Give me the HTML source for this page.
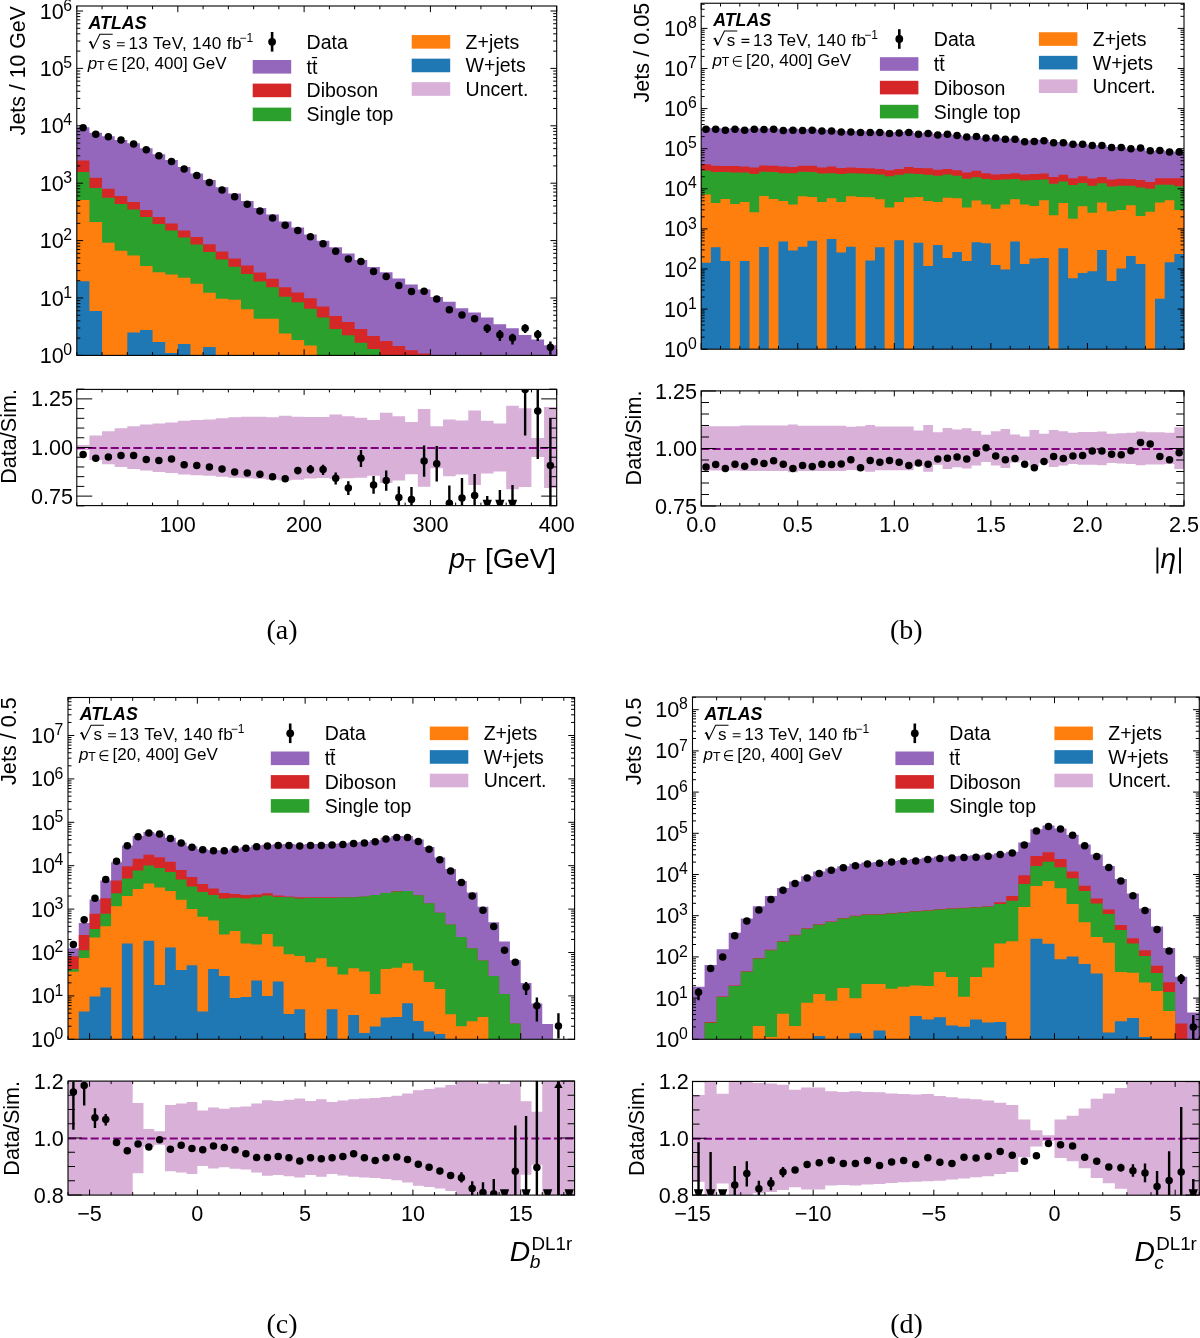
<!DOCTYPE html><html><head><meta charset="utf-8"><style>html,body{margin:0;padding:0;background:#fff;overflow:hidden}svg{display:block;will-change:transform}</style></head><body><svg width="1200" height="1338" viewBox="0 0 1200 1338" font-family='"Liberation Sans", sans-serif'><rect width="1200" height="1338" fill="#fff"/><clipPath id="cma"><rect x="76.8" y="6" width="479.9" height="349.4"/></clipPath><clipPath id="cra"><rect x="76.8" y="389.4" width="479.9" height="116.2"/></clipPath><g clip-path="url(#cma)"><path d="M76.8 355.4 L76.8 127.2 L89.43 127.2 L89.43 132.8 L102.06 132.8 L102.06 136.2 L114.69 136.2 L114.69 139.9 L127.32 139.9 L127.32 143.3 L139.94 143.3 L139.94 148.3 L152.57 148.3 L152.57 154.3 L165.2 154.3 L165.2 160 L177.83 160 L177.83 167 L190.46 167 L190.46 173.5 L203.09 173.5 L203.09 180 L215.72 180 L215.72 187.2 L228.35 187.2 L228.35 193.5 L240.98 193.5 L240.98 201 L253.61 201 L253.61 208.1 L266.23 208.1 L266.23 214.4 L278.86 214.4 L278.86 221.4 L291.49 221.4 L291.49 227.4 L304.12 227.4 L304.12 234.4 L316.75 234.4 L316.75 240.7 L329.38 240.7 L329.38 247.3 L342.01 247.3 L342.01 253.6 L354.64 253.6 L354.64 259.9 L367.27 259.9 L367.27 266.9 L379.89 266.9 L379.89 272.2 L392.52 272.2 L392.52 278.5 L405.15 278.5 L405.15 284.4 L417.78 284.4 L417.78 289.4 L430.41 289.4 L430.41 297 L443.04 297 L443.04 301.8 L455.67 301.8 L455.67 308.3 L468.3 308.3 L468.3 312.4 L480.93 312.4 L480.93 317.4 L493.56 317.4 L493.56 324.2 L506.18 324.2 L506.18 328.3 L518.81 328.3 L518.81 335.1 L531.44 335.1 L531.44 339.5 L544.07 339.5 L544.07 345.3 L556.7 345.3 L556.7 355.4 Z" fill="#9467bd"/><path d="M76.8 355.4 L76.8 160.4 L89.43 160.4 L89.43 177.8 L102.06 177.8 L102.06 188.8 L114.69 188.8 L114.69 196 L127.32 196 L127.32 201.9 L139.94 201.9 L139.94 210 L152.57 210 L152.57 216.9 L165.2 216.9 L165.2 223.4 L177.83 223.4 L177.83 230.5 L190.46 230.5 L190.46 237 L203.09 237 L203.09 244.2 L215.72 244.2 L215.72 251.6 L228.35 251.6 L228.35 258.4 L240.98 258.4 L240.98 265.4 L253.61 265.4 L253.61 272.4 L266.23 272.4 L266.23 278.7 L278.86 278.7 L278.86 287.3 L291.49 287.3 L291.49 292.5 L304.12 292.5 L304.12 298.3 L316.75 298.3 L316.75 306.5 L329.38 306.5 L329.38 316.1 L342.01 316.1 L342.01 321.9 L354.64 321.9 L354.64 329 L367.27 329 L367.27 336 L379.89 336 L379.89 341 L392.52 341 L392.52 346 L405.15 346 L405.15 350.3 L417.78 350.3 L417.78 353.5 L430.41 353.5 L430.41 355.4 L443.04 355.4 L443.04 355.4 L455.67 355.4 L455.67 355.4 L468.3 355.4 L468.3 355.4 L480.93 355.4 L480.93 355.4 L493.56 355.4 L493.56 355.4 L506.18 355.4 L506.18 355.4 L518.81 355.4 L518.81 355.4 L531.44 355.4 L531.44 355.4 L544.07 355.4 L544.07 355.4 L556.7 355.4 L556.7 355.4 Z" fill="#d62728"/><path d="M76.8 355.4 L76.8 172 L89.43 172 L89.43 188.1 L102.06 188.1 L102.06 197.8 L114.69 197.8 L114.69 204 L127.32 204 L127.32 209.6 L139.94 209.6 L139.94 217 L152.57 217 L152.57 224 L165.2 224 L165.2 230.5 L177.83 230.5 L177.83 237.6 L190.46 237.6 L190.46 244.5 L203.09 244.5 L203.09 252 L215.72 252 L215.72 259.5 L228.35 259.5 L228.35 266.8 L240.98 266.8 L240.98 274 L253.61 274 L253.61 281.5 L266.23 281.5 L266.23 287.3 L278.86 287.3 L278.86 296.8 L291.49 296.8 L291.49 302.3 L304.12 302.3 L304.12 308.8 L316.75 308.8 L316.75 317.5 L329.38 317.5 L329.38 329 L342.01 329 L342.01 335.2 L354.64 335.2 L354.64 342.7 L367.27 342.7 L367.27 349 L379.89 349 L379.89 355.4 L392.52 355.4 L392.52 355.4 L405.15 355.4 L405.15 355.4 L417.78 355.4 L417.78 355.4 L430.41 355.4 L430.41 355.4 L443.04 355.4 L443.04 355.4 L455.67 355.4 L455.67 355.4 L468.3 355.4 L468.3 355.4 L480.93 355.4 L480.93 355.4 L493.56 355.4 L493.56 355.4 L506.18 355.4 L506.18 355.4 L518.81 355.4 L518.81 355.4 L531.44 355.4 L531.44 355.4 L544.07 355.4 L544.07 355.4 L556.7 355.4 L556.7 355.4 Z" fill="#2ca02c"/><path d="M76.8 355.4 L76.8 200 L89.43 200 L89.43 222.1 L102.06 222.1 L102.06 242.7 L114.69 242.7 L114.69 250.7 L127.32 250.7 L127.32 255.4 L139.94 255.4 L139.94 266 L152.57 266 L152.57 272.2 L165.2 272.2 L165.2 274.4 L177.83 274.4 L177.83 277.8 L190.46 277.8 L190.46 283.8 L203.09 283.8 L203.09 292.7 L215.72 292.7 L215.72 298.7 L228.35 298.7 L228.35 299.8 L240.98 299.8 L240.98 309.3 L253.61 309.3 L253.61 318.7 L266.23 318.7 L266.23 318.7 L278.86 318.7 L278.86 333.6 L291.49 333.6 L291.49 339.9 L304.12 339.9 L304.12 345.4 L316.75 345.4 L316.75 355.4 L329.38 355.4 L329.38 355.4 L342.01 355.4 L342.01 355.4 L354.64 355.4 L354.64 355.4 L367.27 355.4 L367.27 355.4 L379.89 355.4 L379.89 355.4 L392.52 355.4 L392.52 355.4 L405.15 355.4 L405.15 355.4 L417.78 355.4 L417.78 355.4 L430.41 355.4 L430.41 355.4 L443.04 355.4 L443.04 355.4 L455.67 355.4 L455.67 355.4 L468.3 355.4 L468.3 355.4 L480.93 355.4 L480.93 355.4 L493.56 355.4 L493.56 355.4 L506.18 355.4 L506.18 355.4 L518.81 355.4 L518.81 355.4 L531.44 355.4 L531.44 355.4 L544.07 355.4 L544.07 355.4 L556.7 355.4 L556.7 355.4 Z" fill="#ff7f0e"/><path d="M76.8 355.4 L76.8 281.2 L89.43 281.2 L89.43 310.9 L102.06 310.9 L102.06 355.4 L114.69 355.4 L114.69 355.4 L127.32 355.4 L127.32 332.5 L139.94 332.5 L139.94 330 L152.57 330 L152.57 342.1 L165.2 342.1 L165.2 353.1 L177.83 353.1 L177.83 344 L190.46 344 L190.46 355.4 L203.09 355.4 L203.09 347 L215.72 347 L215.72 355.4 L228.35 355.4 L228.35 355.4 L240.98 355.4 L240.98 355.4 L253.61 355.4 L253.61 355.4 L266.23 355.4 L266.23 355.4 L278.86 355.4 L278.86 355.4 L291.49 355.4 L291.49 355.4 L304.12 355.4 L304.12 355.4 L316.75 355.4 L316.75 355.4 L329.38 355.4 L329.38 355.4 L342.01 355.4 L342.01 355.4 L354.64 355.4 L354.64 355.4 L367.27 355.4 L367.27 355.4 L379.89 355.4 L379.89 355.4 L392.52 355.4 L392.52 355.4 L405.15 355.4 L405.15 355.4 L417.78 355.4 L417.78 355.4 L430.41 355.4 L430.41 355.4 L443.04 355.4 L443.04 355.4 L455.67 355.4 L455.67 355.4 L468.3 355.4 L468.3 355.4 L480.93 355.4 L480.93 355.4 L493.56 355.4 L493.56 355.4 L506.18 355.4 L506.18 355.4 L518.81 355.4 L518.81 355.4 L531.44 355.4 L531.44 355.4 L544.07 355.4 L544.07 355.4 L556.7 355.4 L556.7 355.4 Z" fill="#1f77b4"/><circle cx="83.11" cy="127.7" r="3.75"/><circle cx="95.74" cy="134.3" r="3.75"/><circle cx="108.37" cy="136.7" r="3.75"/><circle cx="121" cy="139.9" r="3.75"/><circle cx="133.63" cy="144" r="3.75"/><circle cx="146.26" cy="149.8" r="3.75"/><circle cx="158.89" cy="155.8" r="3.75"/><circle cx="171.52" cy="161.4" r="3.75"/><circle cx="184.15" cy="168.9" r="3.75"/><circle cx="196.78" cy="175.4" r="3.75"/><circle cx="209.4" cy="182.5" r="3.75"/><circle cx="222.03" cy="190" r="3.75"/><circle cx="234.66" cy="196.8" r="3.75"/><circle cx="247.29" cy="204.2" r="3.75"/><circle cx="259.92" cy="210.9" r="3.75"/><circle cx="272.55" cy="218" r="3.75"/><circle cx="285.18" cy="225.3" r="3.75"/><circle cx="297.81" cy="230.5" r="3.75"/><circle cx="310.44" cy="236.8" r="3.75"/><circle cx="323.06" cy="243.7" r="3.75"/><circle cx="335.69" cy="251.2" r="3.75"/><circle cx="348.32" cy="259.1" r="3.75"/><circle cx="360.95" cy="261.4" r="3.75"/><circle cx="373.58" cy="271.6" r="3.75"/><circle cx="386.21" cy="276.4" r="3.75"/><circle cx="398.84" cy="285.5" r="3.75"/><circle cx="411.47" cy="291.6" r="3.75"/><circle cx="424.1" cy="291.2" r="3.75"/><line x1="436.73" y1="296.9" x2="436.73" y2="300.9" stroke="#000" stroke-width="2.4"/><circle cx="436.73" cy="298.9" r="3.75"/><line x1="449.35" y1="307.2" x2="449.35" y2="312.2" stroke="#000" stroke-width="2.4"/><circle cx="449.35" cy="309.7" r="3.75"/><line x1="461.98" y1="312.1" x2="461.98" y2="318.1" stroke="#000" stroke-width="2.4"/><circle cx="461.98" cy="315.1" r="3.75"/><line x1="474.61" y1="315.5" x2="474.61" y2="321.9" stroke="#000" stroke-width="2.4"/><circle cx="474.61" cy="318.7" r="3.75"/><line x1="487.24" y1="324.2" x2="487.24" y2="333" stroke="#000" stroke-width="2.4"/><circle cx="487.24" cy="328.3" r="3.75"/><line x1="499.87" y1="330" x2="499.87" y2="341" stroke="#000" stroke-width="2.4"/><circle cx="499.87" cy="334.7" r="3.75"/><line x1="512.5" y1="333.7" x2="512.5" y2="344.5" stroke="#000" stroke-width="2.4"/><circle cx="512.5" cy="338" r="3.75"/><line x1="525.13" y1="324.2" x2="525.13" y2="333" stroke="#000" stroke-width="2.4"/><circle cx="525.13" cy="328.3" r="3.75"/><line x1="537.76" y1="330" x2="537.76" y2="341" stroke="#000" stroke-width="2.4"/><circle cx="537.76" cy="334.4" r="3.75"/><line x1="550.39" y1="341.6" x2="550.39" y2="354.7" stroke="#000" stroke-width="2.4"/><circle cx="550.39" cy="347.2" r="3.75"/></g><g clip-path="url(#cra)"><path d="M76.8 445 L89.43 445 L89.43 435.6 L102.06 435.6 L102.06 431.25 L114.69 431.25 L114.69 428.3 L127.32 428.3 L127.32 426.25 L139.94 426.25 L139.94 424.6 L152.57 424.6 L152.57 423.5 L165.2 423.5 L165.2 422.5 L177.83 422.5 L177.83 420.8 L190.46 420.8 L190.46 420 L203.09 420 L203.09 419.4 L215.72 419.4 L215.72 418.3 L228.35 418.3 L228.35 417.3 L240.98 417.3 L240.98 416.7 L253.61 416.7 L253.61 416.7 L266.23 416.7 L266.23 417.3 L278.86 417.3 L278.86 415.8 L291.49 415.8 L291.49 416.7 L304.12 416.7 L304.12 417 L316.75 417 L316.75 416.9 L329.38 416.9 L329.38 414.6 L342.01 414.6 L342.01 416.25 L354.64 416.25 L354.64 417.7 L367.27 417.7 L367.27 420 L379.89 420 L379.89 412.7 L392.52 412.7 L392.52 416.25 L405.15 416.25 L405.15 422.1 L417.78 422.1 L417.78 409 L430.41 409 L430.41 426.25 L443.04 426.25 L443.04 419.4 L455.67 419.4 L455.67 420.4 L468.3 420.4 L468.3 410.4 L480.93 410.4 L480.93 420.8 L493.56 420.8 L493.56 423.5 L506.18 423.5 L506.18 405.8 L518.81 405.8 L518.81 408.3 L531.44 408.3 L531.44 438.1 L544.07 438.1 L544.07 406.9 L556.7 406.9 L556.7 488.1 L544.07 488.1 L544.07 456.9 L531.44 456.9 L531.44 487.1 L518.81 487.1 L518.81 489.2 L506.18 489.2 L506.18 471.5 L493.56 471.5 L493.56 473.5 L480.93 473.5 L480.93 485 L468.3 485 L468.3 474.6 L455.67 474.6 L455.67 476.25 L443.04 476.25 L443.04 468.3 L430.41 468.3 L430.41 486.7 L417.78 486.7 L417.78 474.2 L405.15 474.2 L405.15 480.4 L392.52 480.4 L392.52 482.9 L379.89 482.9 L379.89 475.8 L367.27 475.8 L367.27 477.7 L354.64 477.7 L354.64 478.3 L342.01 478.3 L342.01 478.75 L329.38 478.75 L329.38 478.1 L316.75 478.1 L316.75 478.5 L304.12 478.5 L304.12 479.8 L291.49 479.8 L291.49 480.4 L278.86 480.4 L278.86 479.8 L266.23 479.8 L266.23 478.75 L253.61 478.75 L253.61 478.3 L240.98 478.3 L240.98 477.7 L228.35 477.7 L228.35 476.7 L215.72 476.7 L215.72 475.8 L203.09 475.8 L203.09 475.2 L190.46 475.2 L190.46 474.6 L177.83 474.6 L177.83 473 L165.2 473 L165.2 472 L152.57 472 L152.57 470.4 L139.94 470.4 L139.94 469 L127.32 469 L127.32 466.9 L114.69 466.9 L114.69 464.2 L102.06 464.2 L102.06 460 L89.43 460 L89.43 450 L76.8 450 Z" fill="#d8b0d8"/><line x1="76.8" y1="447.9" x2="556.7" y2="447.9" stroke="#800080" stroke-width="2" stroke-dasharray="8.1 3.2"/><circle cx="83.11" cy="454.4" r="3.75"/><circle cx="95.74" cy="458.3" r="3.75"/><circle cx="108.37" cy="456.9" r="3.75"/><circle cx="121" cy="455.4" r="3.75"/><circle cx="133.63" cy="455.4" r="3.75"/><circle cx="146.26" cy="459.4" r="3.75"/><circle cx="158.89" cy="460.6" r="3.75"/><circle cx="171.52" cy="459" r="3.75"/><circle cx="184.15" cy="464.8" r="3.75"/><circle cx="196.78" cy="465.6" r="3.75"/><circle cx="209.4" cy="466.9" r="3.75"/><circle cx="222.03" cy="469" r="3.75"/><circle cx="234.66" cy="471.9" r="3.75"/><circle cx="247.29" cy="472.9" r="3.75"/><line x1="259.92" y1="472" x2="259.92" y2="476.5" stroke="#000" stroke-width="2.4"/><circle cx="259.92" cy="474.2" r="3.75"/><line x1="272.55" y1="474" x2="272.55" y2="479.5" stroke="#000" stroke-width="2.4"/><circle cx="272.55" cy="476.7" r="3.75"/><line x1="285.18" y1="476" x2="285.18" y2="481.5" stroke="#000" stroke-width="2.4"/><circle cx="285.18" cy="478.75" r="3.75"/><line x1="297.81" y1="467.3" x2="297.81" y2="474.2" stroke="#000" stroke-width="2.4"/><circle cx="297.81" cy="470.4" r="3.75"/><line x1="310.44" y1="465" x2="310.44" y2="473.5" stroke="#000" stroke-width="2.4"/><circle cx="310.44" cy="469.4" r="3.75"/><line x1="323.06" y1="464.8" x2="323.06" y2="475" stroke="#000" stroke-width="2.4"/><circle cx="323.06" cy="469.4" r="3.75"/><line x1="335.69" y1="472.5" x2="335.69" y2="484.6" stroke="#000" stroke-width="2.4"/><circle cx="335.69" cy="478.3" r="3.75"/><line x1="348.32" y1="481.25" x2="348.32" y2="495" stroke="#000" stroke-width="2.4"/><circle cx="348.32" cy="488.1" r="3.75"/><line x1="360.95" y1="450" x2="360.95" y2="466.9" stroke="#000" stroke-width="2.4"/><circle cx="360.95" cy="458.3" r="3.75"/><line x1="373.58" y1="476" x2="373.58" y2="493.75" stroke="#000" stroke-width="2.4"/><circle cx="373.58" cy="485" r="3.75"/><line x1="386.21" y1="470.4" x2="386.21" y2="490.8" stroke="#000" stroke-width="2.4"/><circle cx="386.21" cy="480.4" r="3.75"/><line x1="398.84" y1="486.5" x2="398.84" y2="505.6" stroke="#000" stroke-width="2.4"/><circle cx="398.84" cy="497.5" r="3.75"/><line x1="411.47" y1="487" x2="411.47" y2="505.6" stroke="#000" stroke-width="2.4"/><circle cx="411.47" cy="499.6" r="3.75"/><line x1="424.1" y1="445.4" x2="424.1" y2="476.7" stroke="#000" stroke-width="2.4"/><circle cx="424.1" cy="461" r="3.75"/><line x1="436.73" y1="446" x2="436.73" y2="481.5" stroke="#000" stroke-width="2.4"/><circle cx="436.73" cy="463.75" r="3.75"/><line x1="449.35" y1="485.4" x2="449.35" y2="505.6" stroke="#000" stroke-width="2.4"/><circle cx="449.35" cy="503.3" r="3.75"/><line x1="461.98" y1="478" x2="461.98" y2="505.6" stroke="#000" stroke-width="2.4"/><circle cx="461.98" cy="498.1" r="3.75"/><line x1="474.61" y1="474" x2="474.61" y2="505.6" stroke="#000" stroke-width="2.4"/><circle cx="474.61" cy="495.4" r="3.75"/><line x1="487.24" y1="496" x2="487.24" y2="505.6" stroke="#000" stroke-width="2.4"/><path d="M482.64 499.7 L491.84 499.7 L489.84 505.6 L484.64 505.6 Z"/><line x1="499.87" y1="490" x2="499.87" y2="505.6" stroke="#000" stroke-width="2.4"/><path d="M495.27 499.7 L504.47 499.7 L502.47 505.6 L497.27 505.6 Z"/><line x1="512.5" y1="485" x2="512.5" y2="505.6" stroke="#000" stroke-width="2.4"/><path d="M507.9 499.7 L517.1 499.7 L515.1 505.6 L509.9 505.6 Z"/><line x1="525.13" y1="389.4" x2="525.13" y2="435.6" stroke="#000" stroke-width="2.4"/><circle cx="525.13" cy="389.6" r="3.75"/><line x1="537.76" y1="389.4" x2="537.76" y2="459" stroke="#000" stroke-width="2.4"/><circle cx="537.76" cy="411" r="3.75"/><line x1="550.39" y1="418.3" x2="550.39" y2="505.6" stroke="#000" stroke-width="2.4"/><circle cx="550.39" cy="465.6" r="3.75"/></g><rect x="76.8" y="6" width="479.9" height="349.4" fill="none" stroke="#000" stroke-width="1.1"/><rect x="76.8" y="389.4" width="479.9" height="116.2" fill="none" stroke="#000" stroke-width="1.1"/><path d="M76.8 355.4H83.1 M556.7 355.4H550.4 M76.8 338.12H80.3 M556.7 338.12H553.2 M76.8 328.01H80.3 M556.7 328.01H553.2 M76.8 320.84H80.3 M556.7 320.84H553.2 M76.8 315.28H80.3 M556.7 315.28H553.2 M76.8 310.73H80.3 M556.7 310.73H553.2 M76.8 306.89H80.3 M556.7 306.89H553.2 M76.8 303.56H80.3 M556.7 303.56H553.2 M76.8 300.63H80.3 M556.7 300.63H553.2 M76.8 298H83.1 M556.7 298H550.4 M76.8 280.72H80.3 M556.7 280.72H553.2 M76.8 270.61H80.3 M556.7 270.61H553.2 M76.8 263.44H80.3 M556.7 263.44H553.2 M76.8 257.88H80.3 M556.7 257.88H553.2 M76.8 253.33H80.3 M556.7 253.33H553.2 M76.8 249.49H80.3 M556.7 249.49H553.2 M76.8 246.16H80.3 M556.7 246.16H553.2 M76.8 243.23H80.3 M556.7 243.23H553.2 M76.8 240.6H83.1 M556.7 240.6H550.4 M76.8 223.32H80.3 M556.7 223.32H553.2 M76.8 213.21H80.3 M556.7 213.21H553.2 M76.8 206.04H80.3 M556.7 206.04H553.2 M76.8 200.48H80.3 M556.7 200.48H553.2 M76.8 195.93H80.3 M556.7 195.93H553.2 M76.8 192.09H80.3 M556.7 192.09H553.2 M76.8 188.76H80.3 M556.7 188.76H553.2 M76.8 185.83H80.3 M556.7 185.83H553.2 M76.8 183.2H83.1 M556.7 183.2H550.4 M76.8 165.92H80.3 M556.7 165.92H553.2 M76.8 155.81H80.3 M556.7 155.81H553.2 M76.8 148.64H80.3 M556.7 148.64H553.2 M76.8 143.08H80.3 M556.7 143.08H553.2 M76.8 138.53H80.3 M556.7 138.53H553.2 M76.8 134.69H80.3 M556.7 134.69H553.2 M76.8 131.36H80.3 M556.7 131.36H553.2 M76.8 128.43H80.3 M556.7 128.43H553.2 M76.8 125.8H83.1 M556.7 125.8H550.4 M76.8 108.52H80.3 M556.7 108.52H553.2 M76.8 98.41H80.3 M556.7 98.41H553.2 M76.8 91.24H80.3 M556.7 91.24H553.2 M76.8 85.68H80.3 M556.7 85.68H553.2 M76.8 81.13H80.3 M556.7 81.13H553.2 M76.8 77.29H80.3 M556.7 77.29H553.2 M76.8 73.96H80.3 M556.7 73.96H553.2 M76.8 71.03H80.3 M556.7 71.03H553.2 M76.8 68.4H83.1 M556.7 68.4H550.4 M76.8 51.12H80.3 M556.7 51.12H553.2 M76.8 41.01H80.3 M556.7 41.01H553.2 M76.8 33.84H80.3 M556.7 33.84H553.2 M76.8 28.28H80.3 M556.7 28.28H553.2 M76.8 23.73H80.3 M556.7 23.73H553.2 M76.8 19.89H80.3 M556.7 19.89H553.2 M76.8 16.56H80.3 M556.7 16.56H553.2 M76.8 13.63H80.3 M556.7 13.63H553.2 M76.8 11H83.1 M556.7 11H550.4" stroke="#000" stroke-width="1"/><clipPath id="cmb"><rect x="701.2" y="3.25" width="482.8" height="345.95"/></clipPath><clipPath id="crb"><rect x="701.2" y="390.9" width="482.8" height="115"/></clipPath><g clip-path="url(#cmb)"><path d="M701.2 349.2 L701.2 127.75 L710.86 127.75 L710.86 127.94 L720.51 127.94 L720.51 128.61 L730.17 128.61 L730.17 127.97 L739.82 127.97 L739.82 128.8 L749.48 128.8 L749.48 128.16 L759.14 128.16 L759.14 128.43 L768.79 128.43 L768.79 128.25 L778.45 128.25 L778.45 129.35 L788.1 129.35 L788.1 128.61 L797.76 128.61 L797.76 129.26 L807.42 129.26 L807.42 128.79 L817.07 128.79 L817.07 129.87 L826.73 129.87 L826.73 129.84 L836.38 129.84 L836.38 130.79 L846.04 130.79 L846.04 131.13 L855.7 131.13 L855.7 130.87 L865.35 130.87 L865.35 131.47 L875.01 131.47 L875.01 131.32 L884.66 131.32 L884.66 132.47 L894.32 132.47 L894.32 131.92 L903.98 131.92 L903.98 131.06 L913.63 131.06 L913.63 133.17 L923.29 133.17 L923.29 132.17 L932.94 132.17 L932.94 134.08 L942.6 134.08 L942.6 133.55 L952.26 133.55 L952.26 134.94 L961.91 134.94 L961.91 136.28 L971.57 136.28 L971.57 136.13 L981.22 136.13 L981.22 138.05 L990.88 138.05 L990.88 137.42 L1000.54 137.42 L1000.54 138.43 L1010.19 138.43 L1010.19 138.52 L1019.85 138.52 L1019.85 140.57 L1029.5 140.57 L1029.5 139.87 L1039.16 139.87 L1039.16 139.8 L1048.82 139.8 L1048.82 142.08 L1058.47 142.08 L1058.47 141.92 L1068.13 141.92 L1068.13 143.62 L1077.78 143.62 L1077.78 143.67 L1087.44 143.67 L1087.44 145.31 L1097.1 145.31 L1097.1 145.31 L1106.75 145.31 L1106.75 146.96 L1116.41 146.96 L1116.41 146.92 L1126.06 146.92 L1126.06 148.52 L1135.72 148.52 L1135.72 148.35 L1145.38 148.35 L1145.38 151.04 L1155.03 151.04 L1155.03 149.88 L1164.69 149.88 L1164.69 151.13 L1174.34 151.13 L1174.34 151.67 L1184 151.67 L1184 349.2 Z" fill="#9467bd"/><path d="M701.2 349.2 L701.2 164.2 L710.86 164.2 L710.86 165.7 L720.51 165.7 L720.51 166 L730.17 166 L730.17 166 L739.82 166 L739.82 166.6 L749.48 166.6 L749.48 167.5 L759.14 167.5 L759.14 165.5 L768.79 165.5 L768.79 165.7 L778.45 165.7 L778.45 166.4 L788.1 166.4 L788.1 167 L797.76 167 L797.76 165.7 L807.42 165.7 L807.42 165.7 L817.07 165.7 L817.07 167.5 L826.73 167.5 L826.73 166.6 L836.38 166.6 L836.38 167.9 L846.04 167.9 L846.04 167.5 L855.7 167.5 L855.7 167.9 L865.35 167.9 L865.35 168.3 L875.01 168.3 L875.01 168.9 L884.66 168.9 L884.66 170.2 L894.32 170.2 L894.32 168.9 L903.98 168.9 L903.98 167 L913.63 167 L913.63 167.9 L923.29 167.9 L923.29 168.3 L932.94 168.3 L932.94 169.8 L942.6 169.8 L942.6 168.9 L952.26 168.9 L952.26 170.2 L961.91 170.2 L961.91 172.6 L971.57 172.6 L971.57 170.7 L981.22 170.7 L981.22 173.2 L990.88 173.2 L990.88 174.5 L1000.54 174.5 L1000.54 173.9 L1010.19 173.9 L1010.19 173.2 L1019.85 173.2 L1019.85 174.5 L1029.5 174.5 L1029.5 173.9 L1039.16 173.9 L1039.16 173.5 L1048.82 173.5 L1048.82 176.9 L1058.47 176.9 L1058.47 174.8 L1068.13 174.8 L1068.13 178.2 L1077.78 178.2 L1077.78 176.3 L1087.44 176.3 L1087.44 178.6 L1097.1 178.6 L1097.1 176.9 L1106.75 176.9 L1106.75 179.5 L1116.41 179.5 L1116.41 178.8 L1126.06 178.8 L1126.06 179.1 L1135.72 179.1 L1135.72 180 L1145.38 180 L1145.38 181.9 L1155.03 181.9 L1155.03 178.2 L1164.69 178.2 L1164.69 178.2 L1174.34 178.2 L1174.34 178.2 L1184 178.2 L1184 349.2 Z" fill="#d62728"/><path d="M701.2 349.2 L701.2 170.4 L710.86 170.4 L710.86 172 L720.51 172 L720.51 172 L730.17 172 L730.17 172.6 L739.82 172.6 L739.82 172.6 L749.48 172.6 L749.48 173.9 L759.14 173.9 L759.14 171.7 L768.79 171.7 L768.79 172 L778.45 172 L778.45 173.2 L788.1 173.2 L788.1 173.2 L797.76 173.2 L797.76 171.7 L807.42 171.7 L807.42 172 L817.07 172 L817.07 173.5 L826.73 173.5 L826.73 173.2 L836.38 173.2 L836.38 173.9 L846.04 173.9 L846.04 173.2 L855.7 173.2 L855.7 173.5 L865.35 173.5 L865.35 173.9 L875.01 173.9 L875.01 174.5 L884.66 174.5 L884.66 176.3 L894.32 176.3 L894.32 174.8 L903.98 174.8 L903.98 173.5 L913.63 173.5 L913.63 174.1 L923.29 174.1 L923.29 174.8 L932.94 174.8 L932.94 175.8 L942.6 175.8 L942.6 174.5 L952.26 174.5 L952.26 175.8 L961.91 175.8 L961.91 178.8 L971.57 178.8 L971.57 177.3 L981.22 177.3 L981.22 179.1 L990.88 179.1 L990.88 180 L1000.54 180 L1000.54 179.5 L1010.19 179.5 L1010.19 179.1 L1019.85 179.1 L1019.85 180.6 L1029.5 180.6 L1029.5 180 L1039.16 180 L1039.16 179.5 L1048.82 179.5 L1048.82 183.8 L1058.47 183.8 L1058.47 181.4 L1068.13 181.4 L1068.13 185.1 L1077.78 185.1 L1077.78 182.9 L1087.44 182.9 L1087.44 185.7 L1097.1 185.7 L1097.1 183.2 L1106.75 183.2 L1106.75 186.6 L1116.41 186.6 L1116.41 185.7 L1126.06 185.7 L1126.06 185.7 L1135.72 185.7 L1135.72 187.5 L1145.38 187.5 L1145.38 188.8 L1155.03 188.8 L1155.03 184.7 L1164.69 184.7 L1164.69 184.7 L1174.34 184.7 L1174.34 186.2 L1184 186.2 L1184 349.2 Z" fill="#2ca02c"/><path d="M701.2 349.2 L701.2 194.5 L710.86 194.5 L710.86 202.9 L720.51 202.9 L720.51 199.1 L730.17 199.1 L730.17 204 L739.82 204 L739.82 201.9 L749.48 201.9 L749.48 212.2 L759.14 212.2 L759.14 196 L768.79 196 L768.79 199.1 L778.45 199.1 L778.45 201 L788.1 201 L788.1 204.4 L797.76 204.4 L797.76 196.3 L807.42 196.3 L807.42 196.9 L817.07 196.9 L817.07 201.9 L826.73 201.9 L826.73 198.2 L836.38 198.2 L836.38 201.9 L846.04 201.9 L846.04 196.3 L855.7 196.3 L855.7 196.9 L865.35 196.9 L865.35 197.3 L875.01 197.3 L875.01 199.3 L884.66 199.3 L884.66 207.5 L894.32 207.5 L894.32 202.1 L903.98 202.1 L903.98 197.4 L913.63 197.4 L913.63 196.9 L923.29 196.9 L923.29 201 L932.94 201 L932.94 202.1 L942.6 202.1 L942.6 197.8 L952.26 197.8 L952.26 198.2 L961.91 198.2 L961.91 207.5 L971.57 207.5 L971.57 200.6 L981.22 200.6 L981.22 204.4 L990.88 204.4 L990.88 208.7 L1000.54 208.7 L1000.54 204.4 L1010.19 204.4 L1010.19 199.3 L1019.85 199.3 L1019.85 204.4 L1029.5 204.4 L1029.5 205.9 L1039.16 205.9 L1039.16 200.2 L1048.82 200.2 L1048.82 215.2 L1058.47 215.2 L1058.47 203 L1068.13 203 L1068.13 218.7 L1077.78 218.7 L1077.78 206.2 L1087.44 206.2 L1087.44 212.8 L1097.1 212.8 L1097.1 202.5 L1106.75 202.5 L1106.75 211.3 L1116.41 211.3 L1116.41 210 L1126.06 210 L1126.06 205.3 L1135.72 205.3 L1135.72 216.1 L1145.38 216.1 L1145.38 211.8 L1155.03 211.8 L1155.03 202.5 L1164.69 202.5 L1164.69 200.2 L1174.34 200.2 L1174.34 210 L1184 210 L1184 349.2 Z" fill="#ff7f0e"/><path d="M701.2 349.2 L701.2 262.8 L710.86 262.8 L710.86 247.3 L720.51 247.3 L720.51 261 L730.17 261 L730.17 349.2 L739.82 349.2 L739.82 261 L749.48 261 L749.48 349.2 L759.14 349.2 L759.14 247 L768.79 247 L768.79 349.2 L778.45 349.2 L778.45 241.4 L788.1 241.4 L788.1 250.5 L797.76 250.5 L797.76 246.8 L807.42 246.8 L807.42 240.8 L817.07 240.8 L817.07 349.2 L826.73 349.2 L826.73 238.9 L836.38 238.9 L836.38 252.4 L846.04 252.4 L846.04 246.8 L855.7 246.8 L855.7 349.2 L865.35 349.2 L865.35 260.4 L875.01 260.4 L875.01 247.3 L884.66 247.3 L884.66 349.2 L894.32 349.2 L894.32 240.2 L903.98 240.2 L903.98 349.2 L913.63 349.2 L913.63 242.7 L923.29 242.7 L923.29 266 L932.94 266 L932.94 244.9 L942.6 244.9 L942.6 258 L952.26 258 L952.26 252 L961.91 252 L961.91 261 L971.57 261 L971.57 242.3 L981.22 242.3 L981.22 243.2 L990.88 243.2 L990.88 265.1 L1000.54 265.1 L1000.54 269.4 L1010.19 269.4 L1010.19 241.4 L1019.85 241.4 L1019.85 264.1 L1029.5 264.1 L1029.5 258.5 L1039.16 258.5 L1039.16 258 L1048.82 258 L1048.82 349.2 L1058.47 349.2 L1058.47 248.3 L1068.13 248.3 L1068.13 278.2 L1077.78 278.2 L1077.78 272.9 L1087.44 272.9 L1087.44 271.2 L1097.1 271.2 L1097.1 250.1 L1106.75 250.1 L1106.75 281 L1116.41 281 L1116.41 268.4 L1126.06 268.4 L1126.06 256.1 L1135.72 256.1 L1135.72 264.1 L1145.38 264.1 L1145.38 349.2 L1155.03 349.2 L1155.03 298.7 L1164.69 298.7 L1164.69 262.3 L1174.34 262.3 L1174.34 253.9 L1184 253.9 L1184 349.2 Z" fill="#1f77b4"/><circle cx="706.03" cy="129.2" r="3.75"/><circle cx="715.68" cy="129.2" r="3.75"/><circle cx="725.34" cy="130.2" r="3.75"/><circle cx="735" cy="129.2" r="3.75"/><circle cx="744.65" cy="130.2" r="3.75"/><circle cx="754.31" cy="129.2" r="3.75"/><circle cx="763.96" cy="129.6" r="3.75"/><circle cx="773.62" cy="129.2" r="3.75"/><circle cx="783.28" cy="130.6" r="3.75"/><circle cx="792.93" cy="130.2" r="3.75"/><circle cx="802.59" cy="130.6" r="3.75"/><circle cx="812.24" cy="130.2" r="3.75"/><circle cx="821.9" cy="131.1" r="3.75"/><circle cx="831.56" cy="131.1" r="3.75"/><circle cx="841.21" cy="132" r="3.75"/><circle cx="850.87" cy="132" r="3.75"/><circle cx="860.52" cy="132.4" r="3.75"/><circle cx="870.18" cy="132.4" r="3.75"/><circle cx="879.84" cy="132.4" r="3.75"/><circle cx="889.49" cy="133.4" r="3.75"/><circle cx="899.15" cy="133" r="3.75"/><circle cx="908.8" cy="132.4" r="3.75"/><circle cx="918.46" cy="134.3" r="3.75"/><circle cx="928.12" cy="133.4" r="3.75"/><circle cx="937.77" cy="134.9" r="3.75"/><circle cx="947.43" cy="134.3" r="3.75"/><circle cx="957.08" cy="135.6" r="3.75"/><circle cx="966.74" cy="137.1" r="3.75"/><circle cx="976.4" cy="136.5" r="3.75"/><circle cx="986.05" cy="138" r="3.75"/><circle cx="995.71" cy="138" r="3.75"/><circle cx="1005.36" cy="139.3" r="3.75"/><circle cx="1015.02" cy="139.3" r="3.75"/><circle cx="1024.68" cy="141.8" r="3.75"/><circle cx="1034.33" cy="141.4" r="3.75"/><circle cx="1043.99" cy="140.8" r="3.75"/><circle cx="1053.64" cy="142.7" r="3.75"/><circle cx="1063.3" cy="142.7" r="3.75"/><circle cx="1072.96" cy="144.2" r="3.75"/><circle cx="1082.61" cy="144.2" r="3.75"/><circle cx="1092.27" cy="145.5" r="3.75"/><circle cx="1101.92" cy="145.5" r="3.75"/><circle cx="1111.58" cy="147.4" r="3.75"/><circle cx="1121.24" cy="147.4" r="3.75"/><circle cx="1130.89" cy="148.7" r="3.75"/><circle cx="1140.55" cy="147.9" r="3.75"/><circle cx="1150.2" cy="150.7" r="3.75"/><circle cx="1159.86" cy="150.5" r="3.75"/><circle cx="1169.52" cy="152" r="3.75"/><circle cx="1179.17" cy="152" r="3.75"/></g><g clip-path="url(#crb)"><path d="M701.2 426.2 L710.86 426.2 L710.86 426.2 L720.51 426.2 L720.51 426.2 L730.17 426.2 L730.17 426.2 L739.82 426.2 L739.82 425.5 L749.48 425.5 L749.48 425.5 L759.14 425.5 L759.14 425.5 L768.79 425.5 L768.79 425.5 L778.45 425.5 L778.45 425.5 L788.1 425.5 L788.1 424.4 L797.76 424.4 L797.76 425.7 L807.42 425.7 L807.42 425.7 L817.07 425.7 L817.07 425.7 L826.73 425.7 L826.73 425.7 L836.38 425.7 L836.38 425.7 L846.04 425.7 L846.04 426.8 L855.7 426.8 L855.7 426.2 L865.35 426.2 L865.35 425.1 L875.01 425.1 L875.01 426.6 L884.66 426.6 L884.66 426.6 L894.32 426.6 L894.32 426.6 L903.98 426.6 L903.98 426.6 L913.63 426.6 L913.63 430.5 L923.29 430.5 L923.29 425.1 L932.94 425.1 L932.94 432.2 L942.6 432.2 L942.6 427.9 L952.26 427.9 L952.26 429.4 L961.91 429.4 L961.91 428.3 L971.57 428.3 L971.57 430.9 L981.22 430.9 L981.22 434.8 L990.88 434.8 L990.88 431.2 L1000.54 431.2 L1000.54 429 L1010.19 429 L1010.19 434.4 L1019.85 434.4 L1019.85 436.4 L1029.5 436.4 L1029.5 430.1 L1039.16 430.1 L1039.16 433.75 L1048.82 433.75 L1048.82 430.1 L1058.47 430.1 L1058.47 431.2 L1068.13 431.2 L1068.13 432.7 L1077.78 432.7 L1077.78 432 L1087.44 432 L1087.44 432 L1097.1 432 L1097.1 431.6 L1106.75 431.6 L1106.75 433.75 L1116.41 433.75 L1116.41 433.3 L1126.06 433.3 L1126.06 432.7 L1135.72 432.7 L1135.72 431.6 L1145.38 431.6 L1145.38 432.2 L1155.03 432.2 L1155.03 432.2 L1164.69 432.2 L1164.69 432.7 L1174.34 432.7 L1174.34 427.25 L1184 427.25 L1184 469.1 L1174.34 469.1 L1174.34 464.1 L1164.69 464.1 L1164.69 464.5 L1155.03 464.5 L1155.03 464.5 L1145.38 464.5 L1145.38 465.2 L1135.72 465.2 L1135.72 464.1 L1126.06 464.1 L1126.06 463.4 L1116.41 463.4 L1116.41 463 L1106.75 463 L1106.75 465.2 L1097.1 465.2 L1097.1 464.7 L1087.44 464.7 L1087.44 464.7 L1077.78 464.7 L1077.78 464.1 L1068.13 464.1 L1068.13 465.6 L1058.47 465.6 L1058.47 466.9 L1048.82 466.9 L1048.82 463 L1039.16 463 L1039.16 466.7 L1029.5 466.7 L1029.5 460.4 L1019.85 460.4 L1019.85 462.4 L1010.19 462.4 L1010.19 468 L1000.54 468 L1000.54 465.6 L990.88 465.6 L990.88 461.9 L981.22 461.9 L981.22 465.6 L971.57 465.6 L971.57 468.4 L961.91 468.4 L961.91 467.3 L952.26 467.3 L952.26 468.9 L942.6 468.9 L942.6 464.7 L932.94 464.7 L932.94 471.7 L923.29 471.7 L923.29 466.3 L913.63 466.3 L913.63 470.2 L903.98 470.2 L903.98 470.2 L894.32 470.2 L894.32 470.2 L884.66 470.2 L884.66 470.2 L875.01 470.2 L875.01 471.7 L865.35 471.7 L865.35 470.6 L855.7 470.6 L855.7 469.9 L846.04 469.9 L846.04 471 L836.38 471 L836.38 471 L826.73 471 L826.73 471 L817.07 471 L817.07 471 L807.42 471 L807.42 471 L797.76 471 L797.76 472.3 L788.1 472.3 L788.1 471 L778.45 471 L778.45 471 L768.79 471 L768.79 471 L759.14 471 L759.14 471 L749.48 471 L749.48 471 L739.82 471 L739.82 470.6 L730.17 470.6 L730.17 470.6 L720.51 470.6 L720.51 470.6 L710.86 470.6 L710.86 470.6 L701.2 470.6 Z" fill="#d8b0d8"/><line x1="701.2" y1="448.9" x2="1184" y2="448.9" stroke="#800080" stroke-width="2" stroke-dasharray="8.1 3.2"/><circle cx="706.03" cy="466.9" r="3.75"/><circle cx="715.68" cy="464.6" r="3.75"/><circle cx="725.34" cy="468.51" r="3.75"/><circle cx="735" cy="464.14" r="3.75"/><circle cx="744.65" cy="466.21" r="3.75"/><circle cx="754.31" cy="461.84" r="3.75"/><circle cx="763.96" cy="463.45" r="3.75"/><circle cx="773.62" cy="460.69" r="3.75"/><circle cx="783.28" cy="464.37" r="3.75"/><circle cx="792.93" cy="468.51" r="3.75"/><circle cx="802.59" cy="465.52" r="3.75"/><circle cx="812.24" cy="466.44" r="3.75"/><circle cx="821.9" cy="464.14" r="3.75"/><circle cx="831.56" cy="464.6" r="3.75"/><circle cx="841.21" cy="463.91" r="3.75"/><circle cx="850.87" cy="459.77" r="3.75"/><circle cx="860.52" cy="467.82" r="3.75"/><circle cx="870.18" cy="460.46" r="3.75"/><circle cx="879.84" cy="462.3" r="3.75"/><circle cx="889.49" cy="460.46" r="3.75"/><circle cx="899.15" cy="462.3" r="3.75"/><circle cx="908.8" cy="465.52" r="3.75"/><circle cx="918.46" cy="462.99" r="3.75"/><circle cx="928.12" cy="464.14" r="3.75"/><circle cx="937.77" cy="459.08" r="3.75"/><circle cx="947.43" cy="458.16" r="3.75"/><circle cx="957.08" cy="457.01" r="3.75"/><circle cx="966.74" cy="459.08" r="3.75"/><circle cx="976.4" cy="453.33" r="3.75"/><circle cx="986.05" cy="447.81" r="3.75"/><circle cx="995.71" cy="456.09" r="3.75"/><circle cx="1005.36" cy="459.77" r="3.75"/><circle cx="1015.02" cy="458.62" r="3.75"/><circle cx="1024.68" cy="464.14" r="3.75"/><circle cx="1034.33" cy="467.82" r="3.75"/><circle cx="1043.99" cy="461.38" r="3.75"/><circle cx="1053.64" cy="456.55" r="3.75"/><circle cx="1063.3" cy="458.62" r="3.75"/><circle cx="1072.96" cy="456.09" r="3.75"/><circle cx="1082.61" cy="455.4" r="3.75"/><circle cx="1092.27" cy="451.03" r="3.75"/><circle cx="1101.92" cy="451.03" r="3.75"/><circle cx="1111.58" cy="454.25" r="3.75"/><circle cx="1121.24" cy="454.71" r="3.75"/><circle cx="1130.89" cy="450.8" r="3.75"/><circle cx="1140.55" cy="442.52" r="3.75"/><circle cx="1150.2" cy="443.9" r="3.75"/><circle cx="1159.86" cy="456.55" r="3.75"/><circle cx="1169.52" cy="459.77" r="3.75"/><circle cx="1179.17" cy="452.87" r="3.75"/></g><rect x="701.2" y="3.25" width="482.8" height="345.95" fill="none" stroke="#000" stroke-width="1.1"/><rect x="701.2" y="390.9" width="482.8" height="115" fill="none" stroke="#000" stroke-width="1.1"/><path d="M701.2 349.2H707.5 M1184 349.2H1177.7 M701.2 337.13H704.7 M1184 337.13H1180.5 M701.2 330.07H704.7 M1184 330.07H1180.5 M701.2 325.06H704.7 M1184 325.06H1180.5 M701.2 321.17H704.7 M1184 321.17H1180.5 M701.2 318H704.7 M1184 318H1180.5 M701.2 315.31H704.7 M1184 315.31H1180.5 M701.2 312.99H704.7 M1184 312.99H1180.5 M701.2 310.93H704.7 M1184 310.93H1180.5 M701.2 309.1H707.5 M1184 309.1H1177.7 M701.2 297.03H704.7 M1184 297.03H1180.5 M701.2 289.97H704.7 M1184 289.97H1180.5 M701.2 284.96H704.7 M1184 284.96H1180.5 M701.2 281.07H704.7 M1184 281.07H1180.5 M701.2 277.9H704.7 M1184 277.9H1180.5 M701.2 275.21H704.7 M1184 275.21H1180.5 M701.2 272.89H704.7 M1184 272.89H1180.5 M701.2 270.83H704.7 M1184 270.83H1180.5 M701.2 269H707.5 M1184 269H1177.7 M701.2 256.93H704.7 M1184 256.93H1180.5 M701.2 249.87H704.7 M1184 249.87H1180.5 M701.2 244.86H704.7 M1184 244.86H1180.5 M701.2 240.97H704.7 M1184 240.97H1180.5 M701.2 237.8H704.7 M1184 237.8H1180.5 M701.2 235.11H704.7 M1184 235.11H1180.5 M701.2 232.79H704.7 M1184 232.79H1180.5 M701.2 230.73H704.7 M1184 230.73H1180.5 M701.2 228.9H707.5 M1184 228.9H1177.7 M701.2 216.83H704.7 M1184 216.83H1180.5 M701.2 209.77H704.7 M1184 209.77H1180.5 M701.2 204.76H704.7 M1184 204.76H1180.5 M701.2 200.87H704.7 M1184 200.87H1180.5 M701.2 197.7H704.7 M1184 197.7H1180.5 M701.2 195.01H704.7 M1184 195.01H1180.5 M701.2 192.69H704.7 M1184 192.69H1180.5 M701.2 190.63H704.7 M1184 190.63H1180.5 M701.2 188.8H707.5 M1184 188.8H1177.7 M701.2 176.73H704.7 M1184 176.73H1180.5 M701.2 169.67H704.7 M1184 169.67H1180.5 M701.2 164.66H704.7 M1184 164.66H1180.5 M701.2 160.77H704.7 M1184 160.77H1180.5 M701.2 157.6H704.7 M1184 157.6H1180.5 M701.2 154.91H704.7 M1184 154.91H1180.5 M701.2 152.59H704.7 M1184 152.59H1180.5 M701.2 150.53H704.7 M1184 150.53H1180.5 M701.2 148.7H707.5 M1184 148.7H1177.7 M701.2 136.63H704.7 M1184 136.63H1180.5 M701.2 129.57H704.7 M1184 129.57H1180.5 M701.2 124.56H704.7 M1184 124.56H1180.5 M701.2 120.67H704.7 M1184 120.67H1180.5 M701.2 117.5H704.7 M1184 117.5H1180.5 M701.2 114.81H704.7 M1184 114.81H1180.5 M701.2 112.49H704.7 M1184 112.49H1180.5 M701.2 110.43H704.7 M1184 110.43H1180.5 M701.2 108.6H707.5 M1184 108.6H1177.7 M701.2 96.53H704.7 M1184 96.53H1180.5 M701.2 89.47H704.7 M1184 89.47H1180.5 M701.2 84.46H704.7 M1184 84.46H1180.5 M701.2 80.57H704.7 M1184 80.57H1180.5 M701.2 77.4H704.7 M1184 77.4H1180.5 M701.2 74.71H704.7 M1184 74.71H1180.5 M701.2 72.39H704.7 M1184 72.39H1180.5 M701.2 70.33H704.7 M1184 70.33H1180.5 M701.2 68.5H707.5 M1184 68.5H1177.7 M701.2 56.43H704.7 M1184 56.43H1180.5 M701.2 49.37H704.7 M1184 49.37H1180.5 M701.2 44.36H704.7 M1184 44.36H1180.5 M701.2 40.47H704.7 M1184 40.47H1180.5 M701.2 37.3H704.7 M1184 37.3H1180.5 M701.2 34.61H704.7 M1184 34.61H1180.5 M701.2 32.29H704.7 M1184 32.29H1180.5 M701.2 30.23H704.7 M1184 30.23H1180.5 M701.2 28.4H707.5 M1184 28.4H1177.7 M701.2 16.33H704.7 M1184 16.33H1180.5 M701.2 9.27H704.7 M1184 9.27H1180.5 M701.2 4.26H704.7 M1184 4.26H1180.5" stroke="#000" stroke-width="1"/><clipPath id="cmc"><rect x="68" y="697.5" width="506.6" height="341.8"/></clipPath><clipPath id="crc"><rect x="68" y="1081.1" width="506.6" height="114"/></clipPath><g clip-path="url(#cmc)"><path d="M68 1039.3 L68 948.3 L78.78 948.3 L78.78 923 L89.56 923 L89.56 899.4 L100.34 899.4 L100.34 880.6 L111.11 880.6 L111.11 862.2 L121.89 862.2 L121.89 845.4 L132.67 845.4 L132.67 835.9 L143.45 835.9 L143.45 831.9 L154.23 831.9 L154.23 833.5 L165.01 833.5 L165.01 837.8 L175.79 837.8 L175.79 842.4 L186.57 842.4 L186.57 846.3 L197.34 846.3 L197.34 849.3 L208.12 849.3 L208.12 850.3 L218.9 850.3 L218.9 850.3 L229.68 850.3 L229.68 848.51 L240.46 848.51 L240.46 847.23 L251.24 847.23 L251.24 845.36 L262.02 845.36 L262.02 844.66 L272.8 844.66 L272.8 844.13 L283.57 844.13 L283.57 844.04 L294.35 844.04 L294.35 844.41 L305.13 844.41 L305.13 844.04 L315.91 844.04 L315.91 843.98 L326.69 843.98 L326.69 843.64 L337.47 843.64 L337.47 843.13 L348.25 843.13 L348.25 842.33 L359.03 842.33 L359.03 841.64 L369.8 841.64 L369.8 840.25 L380.58 840.25 L380.58 837.64 L391.36 837.64 L391.36 836.09 L402.14 836.09 L402.14 835.93 L412.92 835.93 L412.92 839.4 L423.7 839.4 L423.7 846.9 L434.48 846.9 L434.48 857.6 L445.26 857.6 L445.26 869.1 L456.03 869.1 L456.03 881 L466.81 881 L466.81 892.5 L477.59 892.5 L477.59 906.8 L488.37 906.8 L488.37 922.2 L499.15 922.2 L499.15 941.4 L509.93 941.4 L509.93 960.2 L520.71 960.2 L520.71 983 L531.49 983 L531.49 1003.4 L542.26 1003.4 L542.26 1024 L553.04 1024 L553.04 1039.3 L563.82 1039.3 L563.82 1039.3 L574.6 1039.3 L574.6 1039.3 Z" fill="#9467bd"/><path d="M68 1039.3 L68 956.3 L78.78 956.3 L78.78 934.9 L89.56 934.9 L89.56 913.7 L100.34 913.7 L100.34 898.2 L111.11 898.2 L111.11 880.6 L121.89 880.6 L121.89 866.2 L132.67 866.2 L132.67 858.8 L143.45 858.8 L143.45 854.7 L154.23 854.7 L154.23 857.2 L165.01 857.2 L165.01 861.8 L175.79 861.8 L175.79 870.1 L186.57 870.1 L186.57 877 L197.34 877 L197.34 884 L208.12 884 L208.12 888.5 L218.9 888.5 L218.9 892.9 L229.68 892.9 L229.68 893.9 L240.46 893.9 L240.46 894.9 L251.24 894.9 L251.24 894.5 L262.02 894.5 L262.02 893.3 L272.8 893.3 L272.8 895.5 L283.57 895.5 L283.57 896.5 L294.35 896.5 L294.35 897.3 L305.13 897.3 L305.13 897.3 L315.91 897.3 L315.91 897.3 L326.69 897.3 L326.69 897.3 L337.47 897.3 L337.47 897.3 L348.25 897.3 L348.25 896.9 L359.03 896.9 L359.03 896.5 L369.8 896.5 L369.8 894.9 L380.58 894.9 L380.58 892.9 L391.36 892.9 L391.36 890.9 L402.14 890.9 L402.14 890.9 L412.92 890.9 L412.92 895.3 L423.7 895.3 L423.7 903.2 L434.48 903.2 L434.48 912.7 L445.26 912.7 L445.26 924.6 L456.03 924.6 L456.03 936.9 L466.81 936.9 L466.81 948.3 L477.59 948.3 L477.59 960.6 L488.37 960.6 L488.37 976.1 L499.15 976.1 L499.15 993.9 L509.93 993.9 L509.93 1023.6 L520.71 1023.6 L520.71 1039.3 L531.49 1039.3 L531.49 1039.3 L542.26 1039.3 L542.26 1039.3 L553.04 1039.3 L553.04 1039.3 L563.82 1039.3 L563.82 1039.3 L574.6 1039.3 L574.6 1039.3 Z" fill="#d62728"/><path d="M68 1039.3 L68 969.1 L78.78 969.1 L78.78 950.3 L89.56 950.3 L89.56 928.9 L100.34 928.9 L100.34 913.7 L111.11 913.7 L111.11 893.3 L121.89 893.3 L121.89 878.6 L132.67 878.6 L132.67 870.5 L143.45 870.5 L143.45 865.6 L154.23 865.6 L154.23 868.1 L165.01 868.1 L165.01 872.1 L175.79 872.1 L175.79 879.6 L186.57 879.6 L186.57 886.4 L197.34 886.4 L197.34 891.9 L208.12 891.9 L208.12 894.9 L218.9 894.9 L218.9 898.6 L229.68 898.6 L229.68 897.8 L240.46 897.8 L240.46 898.4 L251.24 898.4 L251.24 897.3 L262.02 897.3 L262.02 895.5 L272.8 895.5 L272.8 896.9 L283.57 896.9 L283.57 897.3 L294.35 897.3 L294.35 898.4 L305.13 898.4 L305.13 898 L315.91 898 L315.91 898 L326.69 898 L326.69 898 L337.47 898 L337.47 897.6 L348.25 897.6 L348.25 897.3 L359.03 897.3 L359.03 896.5 L369.8 896.5 L369.8 894.9 L380.58 894.9 L380.58 892.9 L391.36 892.9 L391.36 891.5 L402.14 891.5 L402.14 890.9 L412.92 890.9 L412.92 895.3 L423.7 895.3 L423.7 903.2 L434.48 903.2 L434.48 912.7 L445.26 912.7 L445.26 924.6 L456.03 924.6 L456.03 936.9 L466.81 936.9 L466.81 948.3 L477.59 948.3 L477.59 960.6 L488.37 960.6 L488.37 976.1 L499.15 976.1 L499.15 993.9 L509.93 993.9 L509.93 1023.6 L520.71 1023.6 L520.71 1039.3 L531.49 1039.3 L531.49 1039.3 L542.26 1039.3 L542.26 1039.3 L553.04 1039.3 L553.04 1039.3 L563.82 1039.3 L563.82 1039.3 L574.6 1039.3 L574.6 1039.3 Z" fill="#2ca02c"/><path d="M68 1039.3 L68 971.7 L78.78 971.7 L78.78 957.9 L89.56 957.9 L89.56 937.5 L100.34 937.5 L100.34 926.2 L111.11 926.2 L111.11 906.2 L121.89 906.2 L121.89 895.9 L132.67 895.9 L132.67 888.9 L143.45 888.9 L143.45 883.4 L154.23 883.4 L154.23 887.5 L165.01 887.5 L165.01 890.9 L175.79 890.9 L175.79 899.8 L186.57 899.8 L186.57 909.1 L197.34 909.1 L197.34 916.7 L208.12 916.7 L208.12 920.6 L218.9 920.6 L218.9 934.5 L229.68 934.5 L229.68 930.9 L240.46 930.9 L240.46 943.4 L251.24 943.4 L251.24 944.4 L262.02 944.4 L262.02 934.1 L272.8 934.1 L272.8 946.4 L283.57 946.4 L283.57 954.3 L294.35 954.3 L294.35 955.9 L305.13 955.9 L305.13 962.2 L315.91 962.2 L315.91 958.3 L326.69 958.3 L326.69 966.8 L337.47 966.8 L337.47 974.5 L348.25 974.5 L348.25 968.2 L359.03 968.2 L359.03 971.5 L369.8 971.5 L369.8 993.9 L380.58 993.9 L380.58 969.1 L391.36 969.1 L391.36 967.8 L402.14 967.8 L402.14 963.2 L412.92 963.2 L412.92 970.5 L423.7 970.5 L423.7 982 L434.48 982 L434.48 988.9 L445.26 988.9 L445.26 1014.3 L456.03 1014.3 L456.03 1026.2 L466.81 1026.2 L466.81 1021.2 L477.59 1021.2 L477.59 1017.1 L488.37 1017.1 L488.37 1039.3 L499.15 1039.3 L499.15 1039.3 L509.93 1039.3 L509.93 1039.3 L520.71 1039.3 L520.71 1039.3 L531.49 1039.3 L531.49 1039.3 L542.26 1039.3 L542.26 1039.3 L553.04 1039.3 L553.04 1039.3 L563.82 1039.3 L563.82 1039.3 L574.6 1039.3 L574.6 1039.3 Z" fill="#ff7f0e"/><path d="M68 1039.3 L68 1039.3 L78.78 1039.3 L78.78 1011.5 L89.56 1011.5 L89.56 996.6 L100.34 996.6 L100.34 987.4 L111.11 987.4 L111.11 1039.3 L121.89 1039.3 L121.89 943.4 L132.67 943.4 L132.67 1039.3 L143.45 1039.3 L143.45 940.8 L154.23 940.8 L154.23 985 L165.01 985 L165.01 947.4 L175.79 947.4 L175.79 970.1 L186.57 970.1 L186.57 965.2 L197.34 965.2 L197.34 1011.5 L208.12 1011.5 L208.12 969 L218.9 969 L218.9 976.1 L229.68 976.1 L229.68 997.9 L240.46 997.9 L240.46 996.9 L251.24 996.9 L251.24 980.4 L262.02 980.4 L262.02 995.9 L272.8 995.9 L272.8 981.4 L283.57 981.4 L283.57 1014.1 L294.35 1014.1 L294.35 1009.3 L305.13 1009.3 L305.13 1039.3 L315.91 1039.3 L315.91 1039.3 L326.69 1039.3 L326.69 1009.3 L337.47 1009.3 L337.47 1039.3 L348.25 1039.3 L348.25 1015.1 L359.03 1015.1 L359.03 1032.9 L369.8 1032.9 L369.8 1026.6 L380.58 1026.6 L380.58 1017.5 L391.36 1017.5 L391.36 1017.1 L402.14 1017.1 L402.14 1003.2 L412.92 1003.2 L412.92 1021 L423.7 1021 L423.7 1031.5 L434.48 1031.5 L434.48 1034.1 L445.26 1034.1 L445.26 1039.3 L456.03 1039.3 L456.03 1039.3 L466.81 1039.3 L466.81 1039.3 L477.59 1039.3 L477.59 1039.3 L488.37 1039.3 L488.37 1039.3 L499.15 1039.3 L499.15 1039.3 L509.93 1039.3 L509.93 1039.3 L520.71 1039.3 L520.71 1039.3 L531.49 1039.3 L531.49 1039.3 L542.26 1039.3 L542.26 1039.3 L553.04 1039.3 L553.04 1039.3 L563.82 1039.3 L563.82 1039.3 L574.6 1039.3 L574.6 1039.3 Z" fill="#1f77b4"/><circle cx="73.39" cy="944.4" r="3.75"/><circle cx="84.17" cy="919.8" r="3.75"/><circle cx="94.95" cy="898.2" r="3.75"/><circle cx="105.73" cy="879.4" r="3.75"/><circle cx="116.5" cy="861.2" r="3.75"/><circle cx="127.28" cy="845.8" r="3.75"/><circle cx="138.06" cy="836.8" r="3.75"/><circle cx="148.84" cy="833" r="3.75"/><circle cx="159.62" cy="834.1" r="3.75"/><circle cx="170.4" cy="838.4" r="3.75"/><circle cx="181.18" cy="843" r="3.75"/><circle cx="191.96" cy="847.3" r="3.75"/><circle cx="202.73" cy="849.7" r="3.75"/><circle cx="213.51" cy="850.7" r="3.75"/><circle cx="224.29" cy="850.7" r="3.75"/><circle cx="235.07" cy="849.3" r="3.75"/><circle cx="245.85" cy="848.3" r="3.75"/><circle cx="256.63" cy="846.7" r="3.75"/><circle cx="267.41" cy="846" r="3.75"/><circle cx="278.19" cy="845.4" r="3.75"/><circle cx="288.96" cy="845.4" r="3.75"/><circle cx="299.74" cy="846" r="3.75"/><circle cx="310.52" cy="845.4" r="3.75"/><circle cx="321.3" cy="845.4" r="3.75"/><circle cx="332.08" cy="845" r="3.75"/><circle cx="342.86" cy="844.4" r="3.75"/><circle cx="353.64" cy="843.4" r="3.75"/><circle cx="364.41" cy="843" r="3.75"/><circle cx="375.19" cy="841.8" r="3.75"/><circle cx="385.97" cy="839" r="3.75"/><circle cx="396.75" cy="837.4" r="3.75"/><circle cx="407.53" cy="837.4" r="3.75"/><circle cx="418.31" cy="841.4" r="3.75"/><circle cx="429.09" cy="849.3" r="3.75"/><circle cx="439.87" cy="859.8" r="3.75"/><circle cx="450.64" cy="871.1" r="3.75"/><circle cx="461.42" cy="882.6" r="3.75"/><circle cx="472.2" cy="895.9" r="3.75"/><circle cx="482.98" cy="910.3" r="3.75"/><circle cx="493.76" cy="926.6" r="3.75"/><circle cx="504.54" cy="950.3" r="3.75"/><circle cx="515.32" cy="962.2" r="3.75"/><line x1="526.1" y1="982" x2="526.1" y2="995" stroke="#000" stroke-width="2.4"/><circle cx="526.1" cy="987" r="3.75"/><line x1="536.87" y1="997.5" x2="536.87" y2="1021.6" stroke="#000" stroke-width="2.4"/><circle cx="536.87" cy="1005.8" r="3.75"/><line x1="558.43" y1="1013.3" x2="558.43" y2="1038.5" stroke="#000" stroke-width="2.4"/><circle cx="558.43" cy="1026" r="3.75"/></g><g clip-path="url(#crc)"><path d="M68 1079.1 L78.78 1079.1 L78.78 1079.1 L89.56 1079.1 L89.56 1079.1 L100.34 1079.1 L100.34 1079.1 L111.11 1079.1 L111.11 1079.1 L121.89 1079.1 L121.89 1079.1 L132.67 1079.1 L132.67 1103.1 L143.45 1103.1 L143.45 1129 L154.23 1129 L154.23 1131.25 L165.01 1131.25 L165.01 1104.9 L175.79 1104.9 L175.79 1103.6 L186.57 1103.6 L186.57 1102 L197.34 1102 L197.34 1110.6 L208.12 1110.6 L208.12 1107.6 L218.9 1107.6 L218.9 1108.75 L229.68 1108.75 L229.68 1107.2 L240.46 1107.2 L240.46 1106.5 L251.24 1106.5 L251.24 1103.6 L262.02 1103.6 L262.02 1100.2 L272.8 1100.2 L272.8 1100.9 L283.57 1100.9 L283.57 1099.75 L294.35 1099.75 L294.35 1098.6 L305.13 1098.6 L305.13 1100.9 L315.91 1100.9 L315.91 1099.3 L326.69 1099.3 L326.69 1102 L337.47 1102 L337.47 1100.4 L348.25 1100.4 L348.25 1099.3 L359.03 1099.3 L359.03 1098.6 L369.8 1098.6 L369.8 1098 L380.58 1098 L380.58 1097 L391.36 1097 L391.36 1095.7 L402.14 1095.7 L402.14 1093.5 L412.92 1093.5 L412.92 1090.3 L423.7 1090.3 L423.7 1089 L434.48 1089 L434.48 1087.4 L445.26 1087.4 L445.26 1085.1 L456.03 1085.1 L456.03 1079.1 L466.81 1079.1 L466.81 1079.1 L477.59 1079.1 L477.59 1083.5 L488.37 1083.5 L488.37 1079.1 L499.15 1079.1 L499.15 1083.9 L509.93 1083.9 L509.93 1079.1 L520.71 1079.1 L520.71 1101.2 L531.49 1101.2 L531.49 1111.7 L542.26 1111.7 L542.26 1079.1 L553.04 1079.1 L553.04 1079.1 L563.82 1079.1 L563.82 1079.1 L574.6 1079.1 L574.6 1197.1 L563.82 1197.1 L563.82 1197.1 L553.04 1197.1 L553.04 1197.1 L542.26 1197.1 L542.26 1164.7 L531.49 1164.7 L531.49 1174.8 L520.71 1174.8 L520.71 1197.1 L509.93 1197.1 L509.93 1197.1 L499.15 1197.1 L499.15 1197.1 L488.37 1197.1 L488.37 1197.1 L477.59 1197.1 L477.59 1197.1 L466.81 1197.1 L466.81 1197.1 L456.03 1197.1 L456.03 1190.9 L445.26 1190.9 L445.26 1188.6 L434.48 1188.6 L434.48 1187 L423.7 1187 L423.7 1185.7 L412.92 1185.7 L412.92 1182.6 L402.14 1182.6 L402.14 1180.3 L391.36 1180.3 L391.36 1179 L380.58 1179 L380.58 1178 L369.8 1178 L369.8 1177.4 L359.03 1177.4 L359.03 1176.7 L348.25 1176.7 L348.25 1175.6 L337.47 1175.6 L337.47 1174 L326.69 1174 L326.69 1176.7 L315.91 1176.7 L315.91 1175.1 L305.13 1175.1 L305.13 1177.4 L294.35 1177.4 L294.35 1176.25 L283.57 1176.25 L283.57 1175.1 L272.8 1175.1 L272.8 1175.8 L262.02 1175.8 L262.02 1172.4 L251.24 1172.4 L251.24 1169.5 L240.46 1169.5 L240.46 1168.8 L229.68 1168.8 L229.68 1167.3 L218.9 1167.3 L218.9 1168.4 L208.12 1168.4 L208.12 1166.1 L197.34 1166.1 L197.34 1174 L186.57 1174 L186.57 1172.4 L175.79 1172.4 L175.79 1171.3 L165.01 1171.3 L165.01 1144.75 L154.23 1144.75 L154.23 1147 L143.45 1147 L143.45 1173.3 L132.67 1173.3 L132.67 1197.1 L121.89 1197.1 L121.89 1197.1 L111.11 1197.1 L111.11 1197.1 L100.34 1197.1 L100.34 1197.1 L89.56 1197.1 L89.56 1197.1 L78.78 1197.1 L78.78 1197.1 L68 1197.1 Z" fill="#d8b0d8"/><line x1="68" y1="1138.4" x2="574.6" y2="1138.4" stroke="#800080" stroke-width="2" stroke-dasharray="8.1 3.2"/><line x1="73.39" y1="1081.75" x2="73.39" y2="1129.7" stroke="#000" stroke-width="2.4"/><circle cx="73.39" cy="1091.9" r="3.75"/><line x1="84.17" y1="1081.75" x2="84.17" y2="1105.4" stroke="#000" stroke-width="2.4"/><circle cx="84.17" cy="1085.6" r="3.75"/><line x1="94.95" y1="1108.3" x2="94.95" y2="1127.9" stroke="#000" stroke-width="2.4"/><circle cx="94.95" cy="1117.75" r="3.75"/><line x1="105.73" y1="1113.9" x2="105.73" y2="1125.6" stroke="#000" stroke-width="2.4"/><circle cx="105.73" cy="1119.55" r="3.75"/><circle cx="116.5" cy="1142.5" r="3.75"/><circle cx="127.28" cy="1150.8" r="3.75"/><circle cx="138.06" cy="1144.1" r="3.75"/><circle cx="148.84" cy="1147" r="3.75"/><circle cx="159.62" cy="1139.8" r="3.75"/><circle cx="170.4" cy="1149.25" r="3.75"/><circle cx="181.18" cy="1145.2" r="3.75"/><circle cx="191.96" cy="1148.6" r="3.75"/><circle cx="202.73" cy="1149.7" r="3.75"/><circle cx="213.51" cy="1145.9" r="3.75"/><circle cx="224.29" cy="1147.5" r="3.75"/><circle cx="235.07" cy="1149.7" r="3.75"/><circle cx="245.85" cy="1153.75" r="3.75"/><circle cx="256.63" cy="1157.6" r="3.75"/><circle cx="267.41" cy="1157.6" r="3.75"/><circle cx="278.19" cy="1156.5" r="3.75"/><circle cx="288.96" cy="1157.8" r="3.75"/><circle cx="299.74" cy="1161" r="3.75"/><circle cx="310.52" cy="1157.8" r="3.75"/><circle cx="321.3" cy="1158.7" r="3.75"/><circle cx="332.08" cy="1157.8" r="3.75"/><circle cx="342.86" cy="1156.5" r="3.75"/><circle cx="353.64" cy="1153.75" r="3.75"/><circle cx="364.41" cy="1157.8" r="3.75"/><circle cx="375.19" cy="1160.5" r="3.75"/><circle cx="385.97" cy="1157.8" r="3.75"/><circle cx="396.75" cy="1157.1" r="3.75"/><circle cx="407.53" cy="1159.4" r="3.75"/><circle cx="418.31" cy="1164.3" r="3.75"/><circle cx="429.09" cy="1167.3" r="3.75"/><circle cx="439.87" cy="1171.1" r="3.75"/><line x1="450.64" y1="1172" x2="450.64" y2="1179" stroke="#000" stroke-width="2.4"/><circle cx="450.64" cy="1175.6" r="3.75"/><line x1="461.42" y1="1172.2" x2="461.42" y2="1182.6" stroke="#000" stroke-width="2.4"/><circle cx="461.42" cy="1177.8" r="3.75"/><line x1="472.2" y1="1181.2" x2="472.2" y2="1195.1" stroke="#000" stroke-width="2.4"/><circle cx="472.2" cy="1188.6" r="3.75"/><line x1="482.98" y1="1182.3" x2="482.98" y2="1195.1" stroke="#000" stroke-width="2.4"/><circle cx="482.98" cy="1192.5" r="3.75"/><line x1="493.76" y1="1179" x2="493.76" y2="1195.1" stroke="#000" stroke-width="2.4"/><circle cx="493.76" cy="1193.8" r="3.75"/><path d="M499.94 1189.2 L509.14 1189.2 L507.14 1195.1 L501.94 1195.1 Z"/><line x1="515.32" y1="1125.5" x2="515.32" y2="1195.1" stroke="#000" stroke-width="2.4"/><circle cx="515.32" cy="1171.3" r="3.75"/><line x1="526.1" y1="1116" x2="526.1" y2="1195.1" stroke="#000" stroke-width="2.4"/><path d="M521.5 1189.2 L530.7 1189.2 L528.7 1195.1 L523.5 1195.1 Z"/><line x1="536.87" y1="1081.1" x2="536.87" y2="1195.1" stroke="#000" stroke-width="2.4"/><circle cx="536.87" cy="1167.5" r="3.75"/><path d="M543.05 1189.2 L552.25 1189.2 L550.25 1195.1 L545.05 1195.1 Z"/><line x1="558.43" y1="1081.1" x2="558.43" y2="1195.1" stroke="#000" stroke-width="2.4"/><line x1="558.43" y1="1081.1" x2="558.43" y2="1195.1" stroke="#000" stroke-width="2.4"/><path d="M554.23 1088.1 L562.63 1088.1 L558.43 1081.1 Z"/><path d="M564.61 1189.2 L573.81 1189.2 L571.81 1195.1 L566.61 1195.1 Z"/></g><rect x="68" y="697.5" width="506.6" height="341.8" fill="none" stroke="#000" stroke-width="1.1"/><rect x="68" y="1081.1" width="506.6" height="114" fill="none" stroke="#000" stroke-width="1.1"/><path d="M68 1039.3H74.3 M574.6 1039.3H568.3 M68 1026.24H71.5 M574.6 1026.24H571.1 M68 1018.59H71.5 M574.6 1018.59H571.1 M68 1013.17H71.5 M574.6 1013.17H571.1 M68 1008.96H71.5 M574.6 1008.96H571.1 M68 1005.53H71.5 M574.6 1005.53H571.1 M68 1002.62H71.5 M574.6 1002.62H571.1 M68 1000.11H71.5 M574.6 1000.11H571.1 M68 997.89H71.5 M574.6 997.89H571.1 M68 995.9H74.3 M574.6 995.9H568.3 M68 982.84H71.5 M574.6 982.84H571.1 M68 975.19H71.5 M574.6 975.19H571.1 M68 969.77H71.5 M574.6 969.77H571.1 M68 965.56H71.5 M574.6 965.56H571.1 M68 962.13H71.5 M574.6 962.13H571.1 M68 959.22H71.5 M574.6 959.22H571.1 M68 956.71H71.5 M574.6 956.71H571.1 M68 954.49H71.5 M574.6 954.49H571.1 M68 952.5H74.3 M574.6 952.5H568.3 M68 939.44H71.5 M574.6 939.44H571.1 M68 931.79H71.5 M574.6 931.79H571.1 M68 926.37H71.5 M574.6 926.37H571.1 M68 922.16H71.5 M574.6 922.16H571.1 M68 918.73H71.5 M574.6 918.73H571.1 M68 915.82H71.5 M574.6 915.82H571.1 M68 913.31H71.5 M574.6 913.31H571.1 M68 911.09H71.5 M574.6 911.09H571.1 M68 909.1H74.3 M574.6 909.1H568.3 M68 896.04H71.5 M574.6 896.04H571.1 M68 888.39H71.5 M574.6 888.39H571.1 M68 882.97H71.5 M574.6 882.97H571.1 M68 878.76H71.5 M574.6 878.76H571.1 M68 875.33H71.5 M574.6 875.33H571.1 M68 872.42H71.5 M574.6 872.42H571.1 M68 869.91H71.5 M574.6 869.91H571.1 M68 867.69H71.5 M574.6 867.69H571.1 M68 865.7H74.3 M574.6 865.7H568.3 M68 852.64H71.5 M574.6 852.64H571.1 M68 844.99H71.5 M574.6 844.99H571.1 M68 839.57H71.5 M574.6 839.57H571.1 M68 835.36H71.5 M574.6 835.36H571.1 M68 831.93H71.5 M574.6 831.93H571.1 M68 829.02H71.5 M574.6 829.02H571.1 M68 826.51H71.5 M574.6 826.51H571.1 M68 824.29H71.5 M574.6 824.29H571.1 M68 822.3H74.3 M574.6 822.3H568.3 M68 809.24H71.5 M574.6 809.24H571.1 M68 801.59H71.5 M574.6 801.59H571.1 M68 796.17H71.5 M574.6 796.17H571.1 M68 791.96H71.5 M574.6 791.96H571.1 M68 788.53H71.5 M574.6 788.53H571.1 M68 785.62H71.5 M574.6 785.62H571.1 M68 783.11H71.5 M574.6 783.11H571.1 M68 780.89H71.5 M574.6 780.89H571.1 M68 778.9H74.3 M574.6 778.9H568.3 M68 765.84H71.5 M574.6 765.84H571.1 M68 758.19H71.5 M574.6 758.19H571.1 M68 752.77H71.5 M574.6 752.77H571.1 M68 748.56H71.5 M574.6 748.56H571.1 M68 745.13H71.5 M574.6 745.13H571.1 M68 742.22H71.5 M574.6 742.22H571.1 M68 739.71H71.5 M574.6 739.71H571.1 M68 737.49H71.5 M574.6 737.49H571.1 M68 735.5H74.3 M574.6 735.5H568.3 M68 722.44H71.5 M574.6 722.44H571.1 M68 714.79H71.5 M574.6 714.79H571.1 M68 709.37H71.5 M574.6 709.37H571.1 M68 705.16H71.5 M574.6 705.16H571.1 M68 701.73H71.5 M574.6 701.73H571.1 M68 698.82H71.5 M574.6 698.82H571.1" stroke="#000" stroke-width="1"/><clipPath id="cmd"><rect x="692.5" y="697" width="506.8" height="342.3"/></clipPath><clipPath id="crd"><rect x="692.5" y="1081.4" width="506.8" height="113.8"/></clipPath><g clip-path="url(#cmd)"><path d="M692.5 1039.3 L692.5 986.7 L704.57 986.7 L704.57 965 L716.63 965 L716.63 949.2 L728.7 949.2 L728.7 932.8 L740.77 932.8 L740.77 918.4 L752.83 918.4 L752.83 906.3 L764.9 906.3 L764.9 895.9 L776.97 895.9 L776.97 887.9 L789.03 887.9 L789.03 881.4 L801.1 881.4 L801.1 876.3 L813.17 876.3 L813.17 871.5 L825.23 871.5 L825.23 868.6 L837.3 868.6 L837.3 866.2 L849.37 866.2 L849.37 863.7 L861.43 863.7 L861.43 862.5 L873.5 862.5 L873.5 862 L885.57 862 L885.57 861 L897.63 861 L897.63 860 L909.7 860 L909.7 858.9 L921.77 858.9 L921.77 857.7 L933.83 857.7 L933.83 856.5 L945.9 856.5 L945.9 856.2 L957.97 856.2 L957.97 855.7 L970.03 855.7 L970.03 855.2 L982.1 855.2 L982.1 854.4 L994.17 854.4 L994.17 853.3 L1006.23 853.3 L1006.23 851.7 L1018.3 851.7 L1018.3 842.5 L1030.37 842.5 L1030.37 829.3 L1042.43 829.3 L1042.43 825.6 L1054.5 825.6 L1054.5 828.4 L1066.57 828.4 L1066.57 834.8 L1078.63 834.8 L1078.63 844.5 L1090.7 844.5 L1090.7 854.6 L1102.77 854.6 L1102.77 865.9 L1114.83 865.9 L1114.83 879.1 L1126.9 879.1 L1126.9 893.4 L1138.97 893.4 L1138.97 908.4 L1151.03 908.4 L1151.03 926.4 L1163.1 926.4 L1163.1 948 L1175.17 948 L1175.17 976.7 L1187.23 976.7 L1187.23 1012.4 L1199.3 1012.4 L1199.3 1039.3 Z" fill="#9467bd"/><path d="M692.5 1039.3 L692.5 1039.3 L704.57 1039.3 L704.57 1022 L716.63 1022 L716.63 996.5 L728.7 996.5 L728.7 985.4 L740.77 985.4 L740.77 971.2 L752.83 971.2 L752.83 958.1 L764.9 958.1 L764.9 949.7 L776.97 949.7 L776.97 941.2 L789.03 941.2 L789.03 934.8 L801.1 934.8 L801.1 928.3 L813.17 928.3 L813.17 924.3 L825.23 924.3 L825.23 921.4 L837.3 921.4 L837.3 917.9 L849.37 917.9 L849.37 915.8 L861.43 915.8 L861.43 914.2 L873.5 914.2 L873.5 913.9 L885.57 913.9 L885.57 913.1 L897.63 913.1 L897.63 912.3 L909.7 912.3 L909.7 911.1 L921.77 911.1 L921.77 910.3 L933.83 910.3 L933.83 909 L945.9 909 L945.9 908.2 L957.97 908.2 L957.97 907.8 L970.03 907.8 L970.03 907.1 L982.1 907.1 L982.1 906.3 L994.17 906.3 L994.17 902.3 L1006.23 902.3 L1006.23 895.9 L1018.3 895.9 L1018.3 875.3 L1030.37 875.3 L1030.37 856.1 L1042.43 856.1 L1042.43 852.2 L1054.5 852.2 L1054.5 859 L1066.57 859 L1066.57 871.4 L1078.63 871.4 L1078.63 885.7 L1090.7 885.7 L1090.7 898.5 L1102.77 898.5 L1102.77 909.5 L1114.83 909.5 L1114.83 925.1 L1126.9 925.1 L1126.9 938.3 L1138.97 938.3 L1138.97 950.2 L1151.03 950.2 L1151.03 965.7 L1163.1 965.7 L1163.1 982.2 L1175.17 982.2 L1175.17 1023.4 L1187.23 1023.4 L1187.23 1039.3 L1199.3 1039.3 L1199.3 1039.3 Z" fill="#d62728"/><path d="M692.5 1039.3 L692.5 1039.3 L704.57 1039.3 L704.57 1022.8 L716.63 1022.8 L716.63 997.1 L728.7 997.1 L728.7 985.9 L740.77 985.9 L740.77 971.7 L752.83 971.7 L752.83 958.6 L764.9 958.6 L764.9 950.2 L776.97 950.2 L776.97 941.7 L789.03 941.7 L789.03 935.3 L801.1 935.3 L801.1 928.8 L813.17 928.8 L813.17 924.8 L825.23 924.8 L825.23 921.9 L837.3 921.9 L837.3 918.4 L849.37 918.4 L849.37 916.3 L861.43 916.3 L861.43 914.7 L873.5 914.7 L873.5 914.4 L885.57 914.4 L885.57 913.6 L897.63 913.6 L897.63 912.8 L909.7 912.8 L909.7 911.6 L921.77 911.6 L921.77 910.8 L933.83 910.8 L933.83 909.5 L945.9 909.5 L945.9 908.7 L957.97 908.7 L957.97 908.3 L970.03 908.3 L970.03 907.6 L982.1 907.6 L982.1 906.8 L994.17 906.8 L994.17 903.9 L1006.23 903.9 L1006.23 900.7 L1018.3 900.7 L1018.3 884.1 L1030.37 884.1 L1030.37 865.9 L1042.43 865.9 L1042.43 861.7 L1054.5 861.7 L1054.5 867.2 L1066.57 867.2 L1066.57 878.2 L1078.63 878.2 L1078.63 891 L1090.7 891 L1090.7 903.5 L1102.77 903.5 L1102.77 913.9 L1114.83 913.9 L1114.83 930 L1126.9 930 L1126.9 943.4 L1138.97 943.4 L1138.97 956 L1151.03 956 L1151.03 973 L1163.1 973 L1163.1 991.9 L1175.17 991.9 L1175.17 1039.3 L1187.23 1039.3 L1187.23 1039.3 L1199.3 1039.3 L1199.3 1039.3 Z" fill="#2ca02c"/><path d="M692.5 1039.3 L692.5 1039.3 L704.57 1039.3 L704.57 1039.3 L716.63 1039.3 L716.63 1039.3 L728.7 1039.3 L728.7 1039.3 L740.77 1039.3 L740.77 1039.3 L752.83 1039.3 L752.83 1026 L764.9 1026 L764.9 1037 L776.97 1037 L776.97 1013.7 L789.03 1013.7 L789.03 1026 L801.1 1026 L801.1 1002.7 L813.17 1002.7 L813.17 993.9 L825.23 993.9 L825.23 1000.7 L837.3 1000.7 L837.3 988 L849.37 988 L849.37 998.2 L861.43 998.2 L861.43 983.9 L873.5 983.9 L873.5 983.9 L885.57 983.9 L885.57 988.8 L897.63 988.8 L897.63 986.7 L909.7 986.7 L909.7 985.4 L921.77 985.4 L921.77 985.9 L933.83 985.9 L933.83 971.9 L945.9 971.9 L945.9 977 L957.97 977 L957.97 996.8 L970.03 996.8 L970.03 977 L982.1 977 L982.1 967.4 L994.17 967.4 L994.17 943.6 L1006.23 943.6 L1006.23 941.2 L1018.3 941.2 L1018.3 907.1 L1030.37 907.1 L1030.37 886.1 L1042.43 886.1 L1042.43 881.1 L1054.5 881.1 L1054.5 888.3 L1066.57 888.3 L1066.57 904 L1078.63 904 L1078.63 922.3 L1090.7 922.3 L1090.7 937 L1102.77 937 L1102.77 942.8 L1114.83 942.8 L1114.83 972.1 L1126.9 972.1 L1126.9 972.7 L1138.97 972.7 L1138.97 982.6 L1151.03 982.6 L1151.03 991 L1163.1 991 L1163.1 1011 L1175.17 1011 L1175.17 1039.3 L1187.23 1039.3 L1187.23 1039.3 L1199.3 1039.3 L1199.3 1039.3 Z" fill="#ff7f0e"/><path d="M692.5 1039.3 L692.5 1039.3 L704.57 1039.3 L704.57 1039.3 L716.63 1039.3 L716.63 1039.3 L728.7 1039.3 L728.7 1039.3 L740.77 1039.3 L740.77 1039.3 L752.83 1039.3 L752.83 1039.3 L764.9 1039.3 L764.9 1039.3 L776.97 1039.3 L776.97 1039.3 L789.03 1039.3 L789.03 1039.3 L801.1 1039.3 L801.1 1039.3 L813.17 1039.3 L813.17 1036 L825.23 1036 L825.23 1039.3 L837.3 1039.3 L837.3 1039.3 L849.37 1039.3 L849.37 1033.3 L861.43 1033.3 L861.43 1039.3 L873.5 1039.3 L873.5 1030.4 L885.57 1030.4 L885.57 1039.3 L897.63 1039.3 L897.63 1039.3 L909.7 1039.3 L909.7 1015.9 L921.77 1015.9 L921.77 1019.6 L933.83 1019.6 L933.83 1017.2 L945.9 1017.2 L945.9 1025.6 L957.97 1025.6 L957.97 1026.8 L970.03 1026.8 L970.03 1019.6 L982.1 1019.6 L982.1 1022.5 L994.17 1022.5 L994.17 1022 L1006.23 1022 L1006.23 1039.3 L1018.3 1039.3 L1018.3 1039.3 L1030.37 1039.3 L1030.37 938.8 L1042.43 938.8 L1042.43 943.7 L1054.5 943.7 L1054.5 959.3 L1066.57 959.3 L1066.57 956.6 L1078.63 956.6 L1078.63 963.9 L1090.7 963.9 L1090.7 973.6 L1102.77 973.6 L1102.77 1032.6 L1114.83 1032.6 L1114.83 1021.2 L1126.9 1021.2 L1126.9 1017.9 L1138.97 1017.9 L1138.97 1037.1 L1151.03 1037.1 L1151.03 1039.3 L1163.1 1039.3 L1163.1 1039.3 L1175.17 1039.3 L1175.17 1039.3 L1187.23 1039.3 L1187.23 1039.3 L1199.3 1039.3 L1199.3 1039.3 Z" fill="#1f77b4"/><line x1="698.53" y1="988.3" x2="698.53" y2="1000.3" stroke="#000" stroke-width="2.4"/><circle cx="698.53" cy="992.3" r="3.75"/><circle cx="710.6" cy="968.5" r="3.75"/><circle cx="722.67" cy="957" r="3.75"/><circle cx="734.73" cy="935.7" r="3.75"/><circle cx="746.8" cy="921.1" r="3.75"/><circle cx="758.87" cy="909.9" r="3.75"/><circle cx="770.93" cy="899.4" r="3.75"/><circle cx="783" cy="890.3" r="3.75"/><circle cx="795.07" cy="883.5" r="3.75"/><circle cx="807.13" cy="877.9" r="3.75"/><circle cx="819.2" cy="873.4" r="3.75"/><circle cx="831.27" cy="870.2" r="3.75"/><circle cx="843.33" cy="867.8" r="3.75"/><circle cx="855.4" cy="865.7" r="3.75"/><circle cx="867.47" cy="863.9" r="3.75"/><circle cx="879.53" cy="863.3" r="3.75"/><circle cx="891.6" cy="862.1" r="3.75"/><circle cx="903.67" cy="861.3" r="3.75"/><circle cx="915.73" cy="860.9" r="3.75"/><circle cx="927.8" cy="859.4" r="3.75"/><circle cx="939.87" cy="858.6" r="3.75"/><circle cx="951.93" cy="858.1" r="3.75"/><circle cx="964" cy="857.6" r="3.75"/><circle cx="976.07" cy="857.3" r="3.75"/><circle cx="988.13" cy="856.2" r="3.75"/><circle cx="1000.2" cy="854.4" r="3.75"/><circle cx="1012.27" cy="853" r="3.75"/><circle cx="1024.33" cy="845.1" r="3.75"/><circle cx="1036.4" cy="831.1" r="3.75"/><circle cx="1048.47" cy="826.6" r="3.75"/><circle cx="1060.53" cy="828.9" r="3.75"/><circle cx="1072.6" cy="835.2" r="3.75"/><circle cx="1084.67" cy="845.8" r="3.75"/><circle cx="1096.73" cy="856.4" r="3.75"/><circle cx="1108.8" cy="867.4" r="3.75"/><circle cx="1120.87" cy="881.1" r="3.75"/><circle cx="1132.93" cy="895.8" r="3.75"/><circle cx="1145" cy="910.4" r="3.75"/><circle cx="1157.07" cy="929.6" r="3.75"/><circle cx="1169.13" cy="951.1" r="3.75"/><line x1="1181.2" y1="974" x2="1181.2" y2="984" stroke="#000" stroke-width="2.4"/><circle cx="1181.2" cy="978.5" r="3.75"/><line x1="1193.27" y1="1015" x2="1193.27" y2="1039.3" stroke="#000" stroke-width="2.4"/><circle cx="1193.27" cy="1027.1" r="3.75"/></g><g clip-path="url(#crd)"><path d="M692.5 1095.1 L704.57 1095.1 L704.57 1079.4 L716.63 1079.4 L716.63 1093.7 L728.7 1093.7 L728.7 1079.4 L740.77 1079.4 L740.77 1079.4 L752.83 1079.4 L752.83 1083 L764.9 1083 L764.9 1083.6 L776.97 1083.6 L776.97 1084.8 L789.03 1084.8 L789.03 1089.7 L801.1 1089.7 L801.1 1087.4 L813.17 1087.4 L813.17 1087.4 L825.23 1087.4 L825.23 1091.25 L837.3 1091.25 L837.3 1091.9 L849.37 1091.9 L849.37 1091.25 L861.43 1091.25 L861.43 1091.9 L873.5 1091.9 L873.5 1092.3 L885.57 1092.3 L885.57 1093.4 L897.63 1093.4 L897.63 1094.1 L909.7 1094.1 L909.7 1094.5 L921.77 1094.5 L921.77 1094.1 L933.83 1094.1 L933.83 1096 L945.9 1096 L945.9 1097.3 L957.97 1097.3 L957.97 1098.4 L970.03 1098.4 L970.03 1099.3 L982.1 1099.3 L982.1 1100.6 L994.17 1100.6 L994.17 1102.7 L1006.23 1102.7 L1006.23 1104.9 L1018.3 1104.9 L1018.3 1119.4 L1030.37 1119.4 L1030.37 1130.3 L1042.43 1130.3 L1042.43 1135.2 L1054.5 1135.2 L1054.5 1119.4 L1066.57 1119.4 L1066.57 1115.7 L1078.63 1115.7 L1078.63 1108.6 L1090.7 1108.6 L1090.7 1098.8 L1102.77 1098.8 L1102.77 1093.4 L1114.83 1093.4 L1114.83 1088 L1126.9 1088 L1126.9 1079.4 L1138.97 1079.4 L1138.97 1079.4 L1151.03 1079.4 L1151.03 1079.4 L1163.1 1079.4 L1163.1 1079.4 L1175.17 1079.4 L1175.17 1079.4 L1187.23 1079.4 L1187.23 1079.4 L1199.3 1079.4 L1199.3 1197.2 L1187.23 1197.2 L1187.23 1197.2 L1175.17 1197.2 L1175.17 1197.2 L1163.1 1197.2 L1163.1 1197.2 L1151.03 1197.2 L1151.03 1197.2 L1138.97 1197.2 L1138.97 1197.2 L1126.9 1197.2 L1126.9 1188.75 L1114.83 1188.75 L1114.83 1183.3 L1102.77 1183.3 L1102.77 1177.9 L1090.7 1177.9 L1090.7 1168.2 L1078.63 1168.2 L1078.63 1161.2 L1066.57 1161.2 L1066.57 1158 L1054.5 1158 L1054.5 1141.1 L1042.43 1141.1 L1042.43 1146.5 L1030.37 1146.5 L1030.37 1157.3 L1018.3 1157.3 L1018.3 1171.9 L1006.23 1171.9 L1006.23 1174 L994.17 1174 L994.17 1176.2 L982.1 1176.2 L982.1 1177.3 L970.03 1177.3 L970.03 1178.4 L957.97 1178.4 L957.97 1179.4 L945.9 1179.4 L945.9 1180.7 L933.83 1180.7 L933.83 1181.2 L921.77 1181.2 L921.77 1181.8 L909.7 1181.8 L909.7 1182.3 L897.63 1182.3 L897.63 1182.9 L885.57 1182.9 L885.57 1184 L873.5 1184 L873.5 1184.4 L861.43 1184.4 L861.43 1185.5 L849.37 1185.5 L849.37 1185.1 L837.3 1185.1 L837.3 1185.5 L825.23 1185.5 L825.23 1189.4 L813.17 1189.4 L813.17 1189.4 L801.1 1189.4 L801.1 1187.2 L789.03 1187.2 L789.03 1190 L776.97 1190 L776.97 1192 L764.9 1192 L764.9 1193.2 L752.83 1193.2 L752.83 1197.2 L740.77 1197.2 L740.77 1197.2 L728.7 1197.2 L728.7 1183.4 L716.63 1183.4 L716.63 1197.2 L704.57 1197.2 L704.57 1181.8 L692.5 1181.8 Z" fill="#d8b0d8"/><line x1="692.5" y1="1138.7" x2="1199.3" y2="1138.7" stroke="#800080" stroke-width="2" stroke-dasharray="8.1 3.2"/><line x1="698.53" y1="1142.2" x2="698.53" y2="1195.2" stroke="#000" stroke-width="2.4"/><path d="M693.93 1189.3 L703.13 1189.3 L701.13 1195.2 L695.93 1195.2 Z"/><line x1="710.6" y1="1152" x2="710.6" y2="1195.2" stroke="#000" stroke-width="2.4"/><path d="M706 1189.3 L715.2 1189.3 L713.2 1195.2 L708 1195.2 Z"/><path d="M718.07 1189.3 L727.27 1189.3 L725.27 1195.2 L720.07 1195.2 Z"/><line x1="734.73" y1="1166" x2="734.73" y2="1195.2" stroke="#000" stroke-width="2.4"/><circle cx="734.73" cy="1185.1" r="3.75"/><line x1="746.8" y1="1161.2" x2="746.8" y2="1186.6" stroke="#000" stroke-width="2.4"/><circle cx="746.8" cy="1173.6" r="3.75"/><line x1="758.87" y1="1180.7" x2="758.87" y2="1195.2" stroke="#000" stroke-width="2.4"/><circle cx="758.87" cy="1188.8" r="3.75"/><line x1="770.93" y1="1177.3" x2="770.93" y2="1190.3" stroke="#000" stroke-width="2.4"/><circle cx="770.93" cy="1183.3" r="3.75"/><line x1="783" y1="1167" x2="783" y2="1177.3" stroke="#000" stroke-width="2.4"/><circle cx="783" cy="1172.1" r="3.75"/><circle cx="795.07" cy="1169.9" r="3.75"/><circle cx="807.13" cy="1164.5" r="3.75"/><circle cx="819.2" cy="1162.8" r="3.75"/><circle cx="831.27" cy="1160.2" r="3.75"/><circle cx="843.33" cy="1163.4" r="3.75"/><circle cx="855.4" cy="1163.4" r="3.75"/><circle cx="867.47" cy="1160.6" r="3.75"/><circle cx="879.53" cy="1165.6" r="3.75"/><circle cx="891.6" cy="1162.1" r="3.75"/><circle cx="903.67" cy="1160.6" r="3.75"/><circle cx="915.73" cy="1164.5" r="3.75"/><circle cx="927.8" cy="1157.8" r="3.75"/><circle cx="939.87" cy="1162.2" r="3.75"/><circle cx="951.93" cy="1163.4" r="3.75"/><circle cx="964" cy="1157.3" r="3.75"/><circle cx="976.07" cy="1158" r="3.75"/><circle cx="988.13" cy="1156.25" r="3.75"/><circle cx="1000.2" cy="1151.5" r="3.75"/><circle cx="1012.27" cy="1155.2" r="3.75"/><circle cx="1024.33" cy="1161.2" r="3.75"/><circle cx="1036.4" cy="1155.8" r="3.75"/><circle cx="1048.47" cy="1143.5" r="3.75"/><circle cx="1060.53" cy="1144.8" r="3.75"/><circle cx="1072.6" cy="1146.1" r="3.75"/><circle cx="1084.67" cy="1157.3" r="3.75"/><circle cx="1096.73" cy="1161.2" r="3.75"/><circle cx="1108.8" cy="1167.1" r="3.75"/><line x1="1120.87" y1="1163.8" x2="1120.87" y2="1171.4" stroke="#000" stroke-width="2.4"/><circle cx="1120.87" cy="1167.7" r="3.75"/><line x1="1132.93" y1="1164.3" x2="1132.93" y2="1176.8" stroke="#000" stroke-width="2.4"/><circle cx="1132.93" cy="1170.8" r="3.75"/><line x1="1145" y1="1163.4" x2="1145" y2="1182.25" stroke="#000" stroke-width="2.4"/><circle cx="1145" cy="1172.9" r="3.75"/><line x1="1157.07" y1="1171" x2="1157.07" y2="1195.2" stroke="#000" stroke-width="2.4"/><circle cx="1157.07" cy="1186.6" r="3.75"/><line x1="1169.13" y1="1151.3" x2="1169.13" y2="1195.2" stroke="#000" stroke-width="2.4"/><circle cx="1169.13" cy="1180.5" r="3.75"/><line x1="1181.2" y1="1107" x2="1181.2" y2="1195.2" stroke="#000" stroke-width="2.4"/><circle cx="1181.2" cy="1172.1" r="3.75"/><line x1="1193.27" y1="1179" x2="1193.27" y2="1195.2" stroke="#000" stroke-width="2.4"/><path d="M1188.67 1189.3 L1197.87 1189.3 L1195.87 1195.2 L1190.67 1195.2 Z"/></g><rect x="692.5" y="697" width="506.8" height="342.3" fill="none" stroke="#000" stroke-width="1.1"/><rect x="692.5" y="1081.4" width="506.8" height="113.8" fill="none" stroke="#000" stroke-width="1.1"/><path d="M692.5 1039.3H698.8 M1199.3 1039.3H1193 M692.5 1026.9H696 M1199.3 1026.9H1195.8 M692.5 1019.64H696 M1199.3 1019.64H1195.8 M692.5 1014.5H696 M1199.3 1014.5H1195.8 M692.5 1010.5H696 M1199.3 1010.5H1195.8 M692.5 1007.24H696 M1199.3 1007.24H1195.8 M692.5 1004.48H696 M1199.3 1004.48H1195.8 M692.5 1002.09H696 M1199.3 1002.09H1195.8 M692.5 999.99H696 M1199.3 999.99H1195.8 M692.5 998.1H698.8 M1199.3 998.1H1193 M692.5 985.7H696 M1199.3 985.7H1195.8 M692.5 978.44H696 M1199.3 978.44H1195.8 M692.5 973.3H696 M1199.3 973.3H1195.8 M692.5 969.3H696 M1199.3 969.3H1195.8 M692.5 966.04H696 M1199.3 966.04H1195.8 M692.5 963.28H696 M1199.3 963.28H1195.8 M692.5 960.89H696 M1199.3 960.89H1195.8 M692.5 958.79H696 M1199.3 958.79H1195.8 M692.5 956.9H698.8 M1199.3 956.9H1193 M692.5 944.5H696 M1199.3 944.5H1195.8 M692.5 937.24H696 M1199.3 937.24H1195.8 M692.5 932.1H696 M1199.3 932.1H1195.8 M692.5 928.1H696 M1199.3 928.1H1195.8 M692.5 924.84H696 M1199.3 924.84H1195.8 M692.5 922.08H696 M1199.3 922.08H1195.8 M692.5 919.69H696 M1199.3 919.69H1195.8 M692.5 917.59H696 M1199.3 917.59H1195.8 M692.5 915.7H698.8 M1199.3 915.7H1193 M692.5 903.3H696 M1199.3 903.3H1195.8 M692.5 896.04H696 M1199.3 896.04H1195.8 M692.5 890.9H696 M1199.3 890.9H1195.8 M692.5 886.9H696 M1199.3 886.9H1195.8 M692.5 883.64H696 M1199.3 883.64H1195.8 M692.5 880.88H696 M1199.3 880.88H1195.8 M692.5 878.49H696 M1199.3 878.49H1195.8 M692.5 876.39H696 M1199.3 876.39H1195.8 M692.5 874.5H698.8 M1199.3 874.5H1193 M692.5 862.1H696 M1199.3 862.1H1195.8 M692.5 854.84H696 M1199.3 854.84H1195.8 M692.5 849.7H696 M1199.3 849.7H1195.8 M692.5 845.7H696 M1199.3 845.7H1195.8 M692.5 842.44H696 M1199.3 842.44H1195.8 M692.5 839.68H696 M1199.3 839.68H1195.8 M692.5 837.29H696 M1199.3 837.29H1195.8 M692.5 835.19H696 M1199.3 835.19H1195.8 M692.5 833.3H698.8 M1199.3 833.3H1193 M692.5 820.9H696 M1199.3 820.9H1195.8 M692.5 813.64H696 M1199.3 813.64H1195.8 M692.5 808.5H696 M1199.3 808.5H1195.8 M692.5 804.5H696 M1199.3 804.5H1195.8 M692.5 801.24H696 M1199.3 801.24H1195.8 M692.5 798.48H696 M1199.3 798.48H1195.8 M692.5 796.09H696 M1199.3 796.09H1195.8 M692.5 793.99H696 M1199.3 793.99H1195.8 M692.5 792.1H698.8 M1199.3 792.1H1193 M692.5 779.7H696 M1199.3 779.7H1195.8 M692.5 772.44H696 M1199.3 772.44H1195.8 M692.5 767.3H696 M1199.3 767.3H1195.8 M692.5 763.3H696 M1199.3 763.3H1195.8 M692.5 760.04H696 M1199.3 760.04H1195.8 M692.5 757.28H696 M1199.3 757.28H1195.8 M692.5 754.89H696 M1199.3 754.89H1195.8 M692.5 752.79H696 M1199.3 752.79H1195.8 M692.5 750.9H698.8 M1199.3 750.9H1193 M692.5 738.5H696 M1199.3 738.5H1195.8 M692.5 731.24H696 M1199.3 731.24H1195.8 M692.5 726.1H696 M1199.3 726.1H1195.8 M692.5 722.1H696 M1199.3 722.1H1195.8 M692.5 718.84H696 M1199.3 718.84H1195.8 M692.5 716.08H696 M1199.3 716.08H1195.8 M692.5 713.69H696 M1199.3 713.69H1195.8 M692.5 711.59H696 M1199.3 711.59H1195.8 M692.5 709.7H698.8 M1199.3 709.7H1193 M692.5 697.3H696 M1199.3 697.3H1195.8" stroke="#000" stroke-width="1"/><path d="M76.8 355.4V352.1 M76.8 6V9.3 M102.06 355.4V352.1 M102.06 6V9.3 M127.32 355.4V352.1 M127.32 6V9.3 M152.57 355.4V352.1 M152.57 6V9.3 M177.83 355.4V349.2 M177.83 6V12.2 M203.09 355.4V352.1 M203.09 6V9.3 M228.35 355.4V352.1 M228.35 6V9.3 M253.61 355.4V352.1 M253.61 6V9.3 M278.86 355.4V352.1 M278.86 6V9.3 M304.12 355.4V349.2 M304.12 6V12.2 M329.38 355.4V352.1 M329.38 6V9.3 M354.64 355.4V352.1 M354.64 6V9.3 M379.89 355.4V352.1 M379.89 6V9.3 M405.15 355.4V352.1 M405.15 6V9.3 M430.41 355.4V349.2 M430.41 6V12.2 M455.67 355.4V352.1 M455.67 6V9.3 M480.93 355.4V352.1 M480.93 6V9.3 M506.18 355.4V352.1 M506.18 6V9.3 M531.44 355.4V352.1 M531.44 6V9.3 M556.7 355.4V349.2 M556.7 6V12.2" stroke="#000" stroke-width="1"/><path d="M76.8 505.6V502.6 M76.8 389.4V392.4 M102.06 505.6V502.6 M102.06 389.4V392.4 M127.32 505.6V502.6 M127.32 389.4V392.4 M152.57 505.6V502.6 M152.57 389.4V392.4 M177.83 505.6V500.1 M177.83 389.4V394.9 M203.09 505.6V502.6 M203.09 389.4V392.4 M228.35 505.6V502.6 M228.35 389.4V392.4 M253.61 505.6V502.6 M253.61 389.4V392.4 M278.86 505.6V502.6 M278.86 389.4V392.4 M304.12 505.6V500.1 M304.12 389.4V394.9 M329.38 505.6V502.6 M329.38 389.4V392.4 M354.64 505.6V502.6 M354.64 389.4V392.4 M379.89 505.6V502.6 M379.89 389.4V392.4 M405.15 505.6V502.6 M405.15 389.4V392.4 M430.41 505.6V500.1 M430.41 389.4V394.9 M455.67 505.6V502.6 M455.67 389.4V392.4 M480.93 505.6V502.6 M480.93 389.4V392.4 M506.18 505.6V502.6 M506.18 389.4V392.4 M531.44 505.6V502.6 M531.44 389.4V392.4 M556.7 505.6V500.1 M556.7 389.4V394.9" stroke="#000" stroke-width="1"/><path d="M701.2 349.2V343 M701.2 3.25V9.45 M720.51 349.2V345.9 M720.51 3.25V6.55 M739.82 349.2V345.9 M739.82 3.25V6.55 M759.14 349.2V345.9 M759.14 3.25V6.55 M778.45 349.2V345.9 M778.45 3.25V6.55 M797.76 349.2V343 M797.76 3.25V9.45 M817.07 349.2V345.9 M817.07 3.25V6.55 M836.38 349.2V345.9 M836.38 3.25V6.55 M855.7 349.2V345.9 M855.7 3.25V6.55 M875.01 349.2V345.9 M875.01 3.25V6.55 M894.32 349.2V343 M894.32 3.25V9.45 M913.63 349.2V345.9 M913.63 3.25V6.55 M932.94 349.2V345.9 M932.94 3.25V6.55 M952.26 349.2V345.9 M952.26 3.25V6.55 M971.57 349.2V345.9 M971.57 3.25V6.55 M990.88 349.2V343 M990.88 3.25V9.45 M1010.19 349.2V345.9 M1010.19 3.25V6.55 M1029.5 349.2V345.9 M1029.5 3.25V6.55 M1048.82 349.2V345.9 M1048.82 3.25V6.55 M1068.13 349.2V345.9 M1068.13 3.25V6.55 M1087.44 349.2V343 M1087.44 3.25V9.45 M1106.75 349.2V345.9 M1106.75 3.25V6.55 M1126.06 349.2V345.9 M1126.06 3.25V6.55 M1145.38 349.2V345.9 M1145.38 3.25V6.55 M1164.69 349.2V345.9 M1164.69 3.25V6.55 M1184 349.2V343 M1184 3.25V9.45" stroke="#000" stroke-width="1"/><path d="M701.2 505.9V500.4 M701.2 390.9V396.4 M720.51 505.9V502.9 M720.51 390.9V393.9 M739.82 505.9V502.9 M739.82 390.9V393.9 M759.14 505.9V502.9 M759.14 390.9V393.9 M778.45 505.9V502.9 M778.45 390.9V393.9 M797.76 505.9V500.4 M797.76 390.9V396.4 M817.07 505.9V502.9 M817.07 390.9V393.9 M836.38 505.9V502.9 M836.38 390.9V393.9 M855.7 505.9V502.9 M855.7 390.9V393.9 M875.01 505.9V502.9 M875.01 390.9V393.9 M894.32 505.9V500.4 M894.32 390.9V396.4 M913.63 505.9V502.9 M913.63 390.9V393.9 M932.94 505.9V502.9 M932.94 390.9V393.9 M952.26 505.9V502.9 M952.26 390.9V393.9 M971.57 505.9V502.9 M971.57 390.9V393.9 M990.88 505.9V500.4 M990.88 390.9V396.4 M1010.19 505.9V502.9 M1010.19 390.9V393.9 M1029.5 505.9V502.9 M1029.5 390.9V393.9 M1048.82 505.9V502.9 M1048.82 390.9V393.9 M1068.13 505.9V502.9 M1068.13 390.9V393.9 M1087.44 505.9V500.4 M1087.44 390.9V396.4 M1106.75 505.9V502.9 M1106.75 390.9V393.9 M1126.06 505.9V502.9 M1126.06 390.9V393.9 M1145.38 505.9V502.9 M1145.38 390.9V393.9 M1164.69 505.9V502.9 M1164.69 390.9V393.9 M1184 505.9V500.4 M1184 390.9V396.4" stroke="#000" stroke-width="1"/><path d="M68 1039.3V1036 M68 697.5V700.8 M89.56 1039.3V1033.1 M89.56 697.5V703.7 M111.11 1039.3V1036 M111.11 697.5V700.8 M132.67 1039.3V1036 M132.67 697.5V700.8 M154.23 1039.3V1036 M154.23 697.5V700.8 M175.79 1039.3V1036 M175.79 697.5V700.8 M197.34 1039.3V1033.1 M197.34 697.5V703.7 M218.9 1039.3V1036 M218.9 697.5V700.8 M240.46 1039.3V1036 M240.46 697.5V700.8 M262.02 1039.3V1036 M262.02 697.5V700.8 M283.57 1039.3V1036 M283.57 697.5V700.8 M305.13 1039.3V1033.1 M305.13 697.5V703.7 M326.69 1039.3V1036 M326.69 697.5V700.8 M348.25 1039.3V1036 M348.25 697.5V700.8 M369.8 1039.3V1036 M369.8 697.5V700.8 M391.36 1039.3V1036 M391.36 697.5V700.8 M412.92 1039.3V1033.1 M412.92 697.5V703.7 M434.48 1039.3V1036 M434.48 697.5V700.8 M456.03 1039.3V1036 M456.03 697.5V700.8 M477.59 1039.3V1036 M477.59 697.5V700.8 M499.15 1039.3V1036 M499.15 697.5V700.8 M520.71 1039.3V1033.1 M520.71 697.5V703.7 M542.26 1039.3V1036 M542.26 697.5V700.8 M563.82 1039.3V1036 M563.82 697.5V700.8" stroke="#000" stroke-width="1"/><path d="M68 1195.1V1192.1 M68 1081.1V1084.1 M89.56 1195.1V1189.6 M89.56 1081.1V1086.6 M111.11 1195.1V1192.1 M111.11 1081.1V1084.1 M132.67 1195.1V1192.1 M132.67 1081.1V1084.1 M154.23 1195.1V1192.1 M154.23 1081.1V1084.1 M175.79 1195.1V1192.1 M175.79 1081.1V1084.1 M197.34 1195.1V1189.6 M197.34 1081.1V1086.6 M218.9 1195.1V1192.1 M218.9 1081.1V1084.1 M240.46 1195.1V1192.1 M240.46 1081.1V1084.1 M262.02 1195.1V1192.1 M262.02 1081.1V1084.1 M283.57 1195.1V1192.1 M283.57 1081.1V1084.1 M305.13 1195.1V1189.6 M305.13 1081.1V1086.6 M326.69 1195.1V1192.1 M326.69 1081.1V1084.1 M348.25 1195.1V1192.1 M348.25 1081.1V1084.1 M369.8 1195.1V1192.1 M369.8 1081.1V1084.1 M391.36 1195.1V1192.1 M391.36 1081.1V1084.1 M412.92 1195.1V1189.6 M412.92 1081.1V1086.6 M434.48 1195.1V1192.1 M434.48 1081.1V1084.1 M456.03 1195.1V1192.1 M456.03 1081.1V1084.1 M477.59 1195.1V1192.1 M477.59 1081.1V1084.1 M499.15 1195.1V1192.1 M499.15 1081.1V1084.1 M520.71 1195.1V1189.6 M520.71 1081.1V1086.6 M542.26 1195.1V1192.1 M542.26 1081.1V1084.1 M563.82 1195.1V1192.1 M563.82 1081.1V1084.1" stroke="#000" stroke-width="1"/><path d="M692.5 1039.3V1033.1 M692.5 697V703.2 M716.63 1039.3V1036 M716.63 697V700.3 M740.77 1039.3V1036 M740.77 697V700.3 M764.9 1039.3V1036 M764.9 697V700.3 M789.03 1039.3V1036 M789.03 697V700.3 M813.17 1039.3V1033.1 M813.17 697V703.2 M837.3 1039.3V1036 M837.3 697V700.3 M861.43 1039.3V1036 M861.43 697V700.3 M885.57 1039.3V1036 M885.57 697V700.3 M909.7 1039.3V1036 M909.7 697V700.3 M933.83 1039.3V1033.1 M933.83 697V703.2 M957.97 1039.3V1036 M957.97 697V700.3 M982.1 1039.3V1036 M982.1 697V700.3 M1006.23 1039.3V1036 M1006.23 697V700.3 M1030.37 1039.3V1036 M1030.37 697V700.3 M1054.5 1039.3V1033.1 M1054.5 697V703.2 M1078.63 1039.3V1036 M1078.63 697V700.3 M1102.77 1039.3V1036 M1102.77 697V700.3 M1126.9 1039.3V1036 M1126.9 697V700.3 M1151.03 1039.3V1036 M1151.03 697V700.3 M1175.17 1039.3V1033.1 M1175.17 697V703.2 M1199.3 1039.3V1036 M1199.3 697V700.3" stroke="#000" stroke-width="1"/><path d="M692.5 1195.2V1189.7 M692.5 1081.4V1086.9 M716.63 1195.2V1192.2 M716.63 1081.4V1084.4 M740.77 1195.2V1192.2 M740.77 1081.4V1084.4 M764.9 1195.2V1192.2 M764.9 1081.4V1084.4 M789.03 1195.2V1192.2 M789.03 1081.4V1084.4 M813.17 1195.2V1189.7 M813.17 1081.4V1086.9 M837.3 1195.2V1192.2 M837.3 1081.4V1084.4 M861.43 1195.2V1192.2 M861.43 1081.4V1084.4 M885.57 1195.2V1192.2 M885.57 1081.4V1084.4 M909.7 1195.2V1192.2 M909.7 1081.4V1084.4 M933.83 1195.2V1189.7 M933.83 1081.4V1086.9 M957.97 1195.2V1192.2 M957.97 1081.4V1084.4 M982.1 1195.2V1192.2 M982.1 1081.4V1084.4 M1006.23 1195.2V1192.2 M1006.23 1081.4V1084.4 M1030.37 1195.2V1192.2 M1030.37 1081.4V1084.4 M1054.5 1195.2V1189.7 M1054.5 1081.4V1086.9 M1078.63 1195.2V1192.2 M1078.63 1081.4V1084.4 M1102.77 1195.2V1192.2 M1102.77 1081.4V1084.4 M1126.9 1195.2V1192.2 M1126.9 1081.4V1084.4 M1151.03 1195.2V1192.2 M1151.03 1081.4V1084.4 M1175.17 1195.2V1189.7 M1175.17 1081.4V1086.9 M1199.3 1195.2V1192.2 M1199.3 1081.4V1084.4" stroke="#000" stroke-width="1"/><path d="M76.8 505.85H84.3 M556.7 505.85H549.2 M76.8 496.12H92.3 M556.7 496.12H541.2 M76.8 486.4H84.3 M556.7 486.4H549.2 M76.8 476.67H84.3 M556.7 476.67H549.2 M76.8 466.95H84.3 M556.7 466.95H549.2 M76.8 457.22H84.3 M556.7 457.22H549.2 M76.8 447.5H92.3 M556.7 447.5H541.2 M76.8 437.77H84.3 M556.7 437.77H549.2 M76.8 428.05H84.3 M556.7 428.05H549.2 M76.8 418.32H84.3 M556.7 418.32H549.2 M76.8 408.6H84.3 M556.7 408.6H549.2 M76.8 398.88H92.3 M556.7 398.88H541.2 M76.8 389.15H84.3 M556.7 389.15H549.2" stroke="#000" stroke-width="1"/><path d="M701.2 506H715.9 M1184 506H1169.3 M701.2 494.5H709 M1184 494.5H1176.2 M701.2 483H709 M1184 483H1176.2 M701.2 471.5H709 M1184 471.5H1176.2 M701.2 460H709 M1184 460H1176.2 M701.2 448.5H715.9 M1184 448.5H1169.3 M701.2 437H709 M1184 437H1176.2 M701.2 425.5H709 M1184 425.5H1176.2 M701.2 414H709 M1184 414H1176.2 M701.2 402.5H709 M1184 402.5H1176.2 M701.2 391H715.9 M1184 391H1169.3" stroke="#000" stroke-width="1"/><path d="M68 1195H82 M574.6 1195H560.6 M68 1180.75H75 M574.6 1180.75H567.6 M68 1166.5H75 M574.6 1166.5H567.6 M68 1152.25H75 M574.6 1152.25H567.6 M68 1138H82 M574.6 1138H560.6 M68 1123.75H75 M574.6 1123.75H567.6 M68 1109.5H75 M574.6 1109.5H567.6 M68 1095.25H75 M574.6 1095.25H567.6 M68 1081H82 M574.6 1081H560.6" stroke="#000" stroke-width="1"/><path d="M692.5 1195H706.5 M1199.3 1195H1185.3 M692.5 1180.82H699.5 M1199.3 1180.82H1192.3 M692.5 1166.65H699.5 M1199.3 1166.65H1192.3 M692.5 1152.47H699.5 M1199.3 1152.47H1192.3 M692.5 1138.3H706.5 M1199.3 1138.3H1185.3 M692.5 1124.12H699.5 M1199.3 1124.12H1192.3 M692.5 1109.95H699.5 M1199.3 1109.95H1192.3 M692.5 1095.77H699.5 M1199.3 1095.77H1192.3 M692.5 1081.6H706.5 M1199.3 1081.6H1185.3" stroke="#000" stroke-width="1"/><text x="63.8" y="362.9" font-size="21.6" text-anchor="end">10</text><text x="63.3" y="355" font-size="15.8">0</text><text x="63.8" y="305.5" font-size="21.6" text-anchor="end">10</text><text x="63.3" y="297.6" font-size="15.8">1</text><text x="63.8" y="248.1" font-size="21.6" text-anchor="end">10</text><text x="63.3" y="240.2" font-size="15.8">2</text><text x="63.8" y="190.7" font-size="21.6" text-anchor="end">10</text><text x="63.3" y="182.8" font-size="15.8">3</text><text x="63.8" y="133.3" font-size="21.6" text-anchor="end">10</text><text x="63.3" y="125.4" font-size="15.8">4</text><text x="63.8" y="75.9" font-size="21.6" text-anchor="end">10</text><text x="63.3" y="68" font-size="15.8">5</text><text x="63.8" y="18.5" font-size="21.6" text-anchor="end">10</text><text x="63.3" y="10.6" font-size="15.8">6</text><text x="688" y="356.7" font-size="21.6" text-anchor="end">10</text><text x="688.1" y="348.8" font-size="15.8">0</text><text x="688" y="316.6" font-size="21.6" text-anchor="end">10</text><text x="688.1" y="308.7" font-size="15.8">1</text><text x="688" y="276.5" font-size="21.6" text-anchor="end">10</text><text x="688.1" y="268.6" font-size="15.8">2</text><text x="688" y="236.4" font-size="21.6" text-anchor="end">10</text><text x="688.1" y="228.5" font-size="15.8">3</text><text x="688" y="196.3" font-size="21.6" text-anchor="end">10</text><text x="688.1" y="188.4" font-size="15.8">4</text><text x="688" y="156.2" font-size="21.6" text-anchor="end">10</text><text x="688.1" y="148.3" font-size="15.8">5</text><text x="688" y="116.1" font-size="21.6" text-anchor="end">10</text><text x="688.1" y="108.2" font-size="15.8">6</text><text x="688" y="76" font-size="21.6" text-anchor="end">10</text><text x="688.1" y="68.1" font-size="15.8">7</text><text x="688" y="35.9" font-size="21.6" text-anchor="end">10</text><text x="688.1" y="28" font-size="15.8">8</text><text x="55.1" y="1046.8" font-size="21.6" text-anchor="end">10</text><text x="54.5" y="1038.9" font-size="15.8">0</text><text x="55.1" y="1003.4" font-size="21.6" text-anchor="end">10</text><text x="54.5" y="995.5" font-size="15.8">1</text><text x="55.1" y="960" font-size="21.6" text-anchor="end">10</text><text x="54.5" y="952.1" font-size="15.8">2</text><text x="55.1" y="916.6" font-size="21.6" text-anchor="end">10</text><text x="54.5" y="908.7" font-size="15.8">3</text><text x="55.1" y="873.2" font-size="21.6" text-anchor="end">10</text><text x="54.5" y="865.3" font-size="15.8">4</text><text x="55.1" y="829.8" font-size="21.6" text-anchor="end">10</text><text x="54.5" y="821.9" font-size="15.8">5</text><text x="55.1" y="786.4" font-size="21.6" text-anchor="end">10</text><text x="54.5" y="778.5" font-size="15.8">6</text><text x="55.1" y="743" font-size="21.6" text-anchor="end">10</text><text x="54.5" y="735.1" font-size="15.8">7</text><text x="679.2" y="1046.8" font-size="21.6" text-anchor="end">10</text><text x="679.1" y="1038.9" font-size="15.8">0</text><text x="679.2" y="1005.6" font-size="21.6" text-anchor="end">10</text><text x="679.1" y="997.7" font-size="15.8">1</text><text x="679.2" y="964.4" font-size="21.6" text-anchor="end">10</text><text x="679.1" y="956.5" font-size="15.8">2</text><text x="679.2" y="923.2" font-size="21.6" text-anchor="end">10</text><text x="679.1" y="915.3" font-size="15.8">3</text><text x="679.2" y="882" font-size="21.6" text-anchor="end">10</text><text x="679.1" y="874.1" font-size="15.8">4</text><text x="679.2" y="840.8" font-size="21.6" text-anchor="end">10</text><text x="679.1" y="832.9" font-size="15.8">5</text><text x="679.2" y="799.6" font-size="21.6" text-anchor="end">10</text><text x="679.1" y="791.7" font-size="15.8">6</text><text x="679.2" y="758.4" font-size="21.6" text-anchor="end">10</text><text x="679.1" y="750.5" font-size="15.8">7</text><text x="679.2" y="717.2" font-size="21.6" text-anchor="end">10</text><text x="679.1" y="709.3" font-size="15.8">8</text><text x="73.1" y="503.62" font-size="21.6" text-anchor="end">0.75</text><text x="73.1" y="455" font-size="21.6" text-anchor="end">1.00</text><text x="73.1" y="406.38" font-size="21.6" text-anchor="end">1.25</text><text x="697.1" y="513.5" font-size="21.6" text-anchor="end">0.75</text><text x="697.1" y="456" font-size="21.6" text-anchor="end">1.00</text><text x="697.1" y="398.5" font-size="21.6" text-anchor="end">1.25</text><text x="63.9" y="1202.5" font-size="21.6" text-anchor="end">0.8</text><text x="63.9" y="1145.5" font-size="21.6" text-anchor="end">1.0</text><text x="63.9" y="1088.5" font-size="21.6" text-anchor="end">1.2</text><text x="688.7" y="1202.5" font-size="21.6" text-anchor="end">0.8</text><text x="688.7" y="1145.8" font-size="21.6" text-anchor="end">1.0</text><text x="688.7" y="1089.1" font-size="21.6" text-anchor="end">1.2</text><text x="177.83" y="532.4" font-size="21.6" text-anchor="middle">100</text><text x="304.12" y="532.4" font-size="21.6" text-anchor="middle">200</text><text x="430.41" y="532.4" font-size="21.6" text-anchor="middle">300</text><text x="556.7" y="532.4" font-size="21.6" text-anchor="middle">400</text><text x="701.2" y="532.4" font-size="21.6" text-anchor="middle">0.0</text><text x="797.76" y="532.4" font-size="21.6" text-anchor="middle">0.5</text><text x="894.32" y="532.4" font-size="21.6" text-anchor="middle">1.0</text><text x="990.88" y="532.4" font-size="21.6" text-anchor="middle">1.5</text><text x="1087.44" y="532.4" font-size="21.6" text-anchor="middle">2.0</text><text x="1184" y="532.4" font-size="21.6" text-anchor="middle">2.5</text><text x="89.56" y="1221.4" font-size="21.6" text-anchor="middle">−5</text><text x="197.34" y="1221.4" font-size="21.6" text-anchor="middle">0</text><text x="305.13" y="1221.4" font-size="21.6" text-anchor="middle">5</text><text x="412.92" y="1221.4" font-size="21.6" text-anchor="middle">10</text><text x="520.71" y="1221.4" font-size="21.6" text-anchor="middle">15</text><text x="692.5" y="1221.4" font-size="21.6" text-anchor="middle">−15</text><text x="813.17" y="1221.4" font-size="21.6" text-anchor="middle">−10</text><text x="933.83" y="1221.4" font-size="21.6" text-anchor="middle">−5</text><text x="1054.5" y="1221.4" font-size="21.6" text-anchor="middle">0</text><text x="1175.17" y="1221.4" font-size="21.6" text-anchor="middle">5</text><text transform="translate(25.1 6.1) rotate(-90)" font-size="21.3" text-anchor="end">Jets / 10 GeV</text><text transform="translate(649.2 2.8) rotate(-90)" font-size="21.6" text-anchor="end">Jets / 0.05</text><text transform="translate(16 697.3) rotate(-90)" font-size="21.6" text-anchor="end">Jets / 0.5</text><text transform="translate(640.8 697.4) rotate(-90)" font-size="21.6" text-anchor="end">Jets / 0.5</text><text transform="translate(16.2 389) rotate(-90)" font-size="21.6" text-anchor="end">Data/Sim.</text><text transform="translate(641 390.6) rotate(-90)" font-size="21.6" text-anchor="end">Data/Sim.</text><text transform="translate(19 1080.9) rotate(-90)" font-size="21.6" text-anchor="end">Data/Sim.</text><text transform="translate(643.8 1081.3) rotate(-90)" font-size="21.6" text-anchor="end">Data/Sim.</text><text x="449.2" y="567.9" font-size="28.4" font-style="italic">p</text><text x="464.6" y="571.9" font-size="19">T</text><text x="485" y="568" font-size="28.5" textLength="71" lengthAdjust="spacingAndGlyphs">[GeV]</text><path d="M1157.4 547.5V573.5 M1180 547.5V573.5" stroke="#000" stroke-width="1.9"/><text x="1160.5" y="567.8" font-size="28" font-style="italic">η</text><text x="509.8" y="1260.8" font-size="28.3" font-style="italic">D</text><text x="529.7" y="1268" font-size="19.2" font-style="italic">b</text><text x="531.6" y="1250.4" font-size="19.2" textLength="40.6" lengthAdjust="spacingAndGlyphs">DL1r</text><text x="1134.4" y="1260.8" font-size="28.3" font-style="italic">D</text><text x="1154.3" y="1268.7" font-size="19.2" font-style="italic">c</text><text x="1156.2" y="1250.4" font-size="19.2" textLength="40.6" lengthAdjust="spacingAndGlyphs">DL1r</text><text x="282" y="639.2" font-size="28" text-anchor="middle" font-family='"Liberation Serif", serif'>(a)</text><text x="906.3" y="639.2" font-size="28" text-anchor="middle" font-family='"Liberation Serif", serif'>(b)</text><text x="282" y="1333.2" font-size="28" text-anchor="middle" font-family='"Liberation Serif", serif'>(c)</text><text x="906.5" y="1333.2" font-size="28" text-anchor="middle" font-family='"Liberation Serif", serif'>(d)</text><text x="88.6" y="28.9" font-size="17.8" font-weight="bold" font-style="italic">ATLAS</text><path d="M90.4 41.6L93.1 48.2" stroke="#000" stroke-width="1.7" fill="none"/><path d="M89 42.6L90.5 41.6L93.1 48.3L99.8 34.3H112.7" stroke="#000" stroke-width="1.05" fill="none"/><text x="102.2" y="48.9" font-size="17">s</text><path d="M116.9 42.7H124.7 M116.9 45.7H124.7" stroke="#000" stroke-width="1.1"/><text x="128.4" y="48.9" font-size="17.2" textLength="113.1" lengthAdjust="spacing">13 TeV, 140 fb</text><text x="239.6" y="41.8" font-size="12">−1</text><text x="87.8" y="69.1" font-size="17" font-style="italic">p</text><text x="97.1" y="69.5" font-size="12.4">T</text><path d="M117.1 59.7H113.1 A4.4 4.9 0 0 0 113.1 69.5H117.1 M108.8 64.6H117.1" stroke="#000" stroke-width="1.05" fill="none"/><text x="121.4" y="69.1" font-size="17" textLength="105.2" lengthAdjust="spacing">[20, 400] GeV</text><line x1="272.1" y1="32" x2="272.1" y2="51.6" stroke="#000" stroke-width="2.6"/><circle cx="272.1" cy="41.8" r="3.9"/><text x="306.6" y="48.7" font-size="19.5" text-anchor="start">Data</text><rect x="252.7" y="60" width="38.5" height="13.6" fill="#9467bd"/><text x="306.6" y="73.7" font-size="19.5" text-anchor="start">t<tspan>t̄</tspan></text><rect x="252.7" y="83.6" width="38.5" height="13.6" fill="#d62728"/><text x="306.6" y="97.3" font-size="19.5" text-anchor="start">Diboson</text><rect x="252.7" y="107.6" width="38.5" height="13.6" fill="#2ca02c"/><text x="306.6" y="121.3" font-size="19.5" text-anchor="start">Single top</text><rect x="411.7" y="35.05" width="38.5" height="13.6" fill="#ff7f0e"/><text x="465.6" y="48.75" font-size="19.5" text-anchor="start">Z+jets</text><rect x="411.7" y="58.65" width="38.5" height="13.6" fill="#1f77b4"/><text x="465.6" y="72.35" font-size="19.5" text-anchor="start">W+jets</text><rect x="411.7" y="82.2" width="38.5" height="13.6" fill="#d8b0d8"/><text x="465.6" y="95.9" font-size="19.5" text-anchor="start">Uncert.</text><text x="713.2" y="25.6" font-size="17.8" font-weight="bold" font-style="italic">ATLAS</text><path d="M715 38.3L717.7 44.9" stroke="#000" stroke-width="1.7" fill="none"/><path d="M713.6 39.3L715.1 38.3L717.7 45L724.4 31H737.3" stroke="#000" stroke-width="1.05" fill="none"/><text x="726.8" y="45.6" font-size="17">s</text><path d="M741.5 39.4H749.3 M741.5 42.4H749.3" stroke="#000" stroke-width="1.1"/><text x="753" y="45.6" font-size="17.2" textLength="113.1" lengthAdjust="spacing">13 TeV, 140 fb</text><text x="864.2" y="38.5" font-size="12">−1</text><text x="712.4" y="65.8" font-size="17" font-style="italic">p</text><text x="721.7" y="66.2" font-size="12.4">T</text><path d="M741.7 56.4H737.7 A4.4 4.9 0 0 0 737.7 66.2H741.7 M733.4 61.3H741.7" stroke="#000" stroke-width="1.05" fill="none"/><text x="746" y="65.8" font-size="17" textLength="105.2" lengthAdjust="spacing">[20, 400] GeV</text><line x1="899.3" y1="29.2" x2="899.3" y2="48.8" stroke="#000" stroke-width="2.6"/><circle cx="899.3" cy="39" r="3.9"/><text x="933.8" y="45.9" font-size="19.5" text-anchor="start">Data</text><rect x="879.9" y="57.2" width="38.5" height="13.6" fill="#9467bd"/><text x="933.8" y="70.9" font-size="19.5" text-anchor="start">t<tspan>t̄</tspan></text><rect x="879.9" y="80.8" width="38.5" height="13.6" fill="#d62728"/><text x="933.8" y="94.5" font-size="19.5" text-anchor="start">Diboson</text><rect x="879.9" y="104.8" width="38.5" height="13.6" fill="#2ca02c"/><text x="933.8" y="118.5" font-size="19.5" text-anchor="start">Single top</text><rect x="1038.9" y="32.25" width="38.5" height="13.6" fill="#ff7f0e"/><text x="1092.8" y="45.95" font-size="19.5" text-anchor="start">Z+jets</text><rect x="1038.9" y="55.85" width="38.5" height="13.6" fill="#1f77b4"/><text x="1092.8" y="69.55" font-size="19.5" text-anchor="start">W+jets</text><rect x="1038.9" y="79.4" width="38.5" height="13.6" fill="#d8b0d8"/><text x="1092.8" y="93.1" font-size="19.5" text-anchor="start">Uncert.</text><text x="79.8" y="719.9" font-size="17.8" font-weight="bold" font-style="italic">ATLAS</text><path d="M81.6 732.6L84.3 739.2" stroke="#000" stroke-width="1.7" fill="none"/><path d="M80.2 733.6L81.7 732.6L84.3 739.3L91 725.3H103.9" stroke="#000" stroke-width="1.05" fill="none"/><text x="93.4" y="739.9" font-size="17">s</text><path d="M108.1 733.7H115.9 M108.1 736.7H115.9" stroke="#000" stroke-width="1.1"/><text x="119.6" y="739.9" font-size="17.2" textLength="113.1" lengthAdjust="spacing">13 TeV, 140 fb</text><text x="230.8" y="732.8" font-size="12">−1</text><text x="79" y="760.1" font-size="17" font-style="italic">p</text><text x="88.3" y="760.5" font-size="12.4">T</text><path d="M108.3 750.7H104.3 A4.4 4.9 0 0 0 104.3 760.5H108.3 M100 755.6H108.3" stroke="#000" stroke-width="1.05" fill="none"/><text x="112.6" y="760.1" font-size="17" textLength="105.2" lengthAdjust="spacing">[20, 400] GeV</text><line x1="290.2" y1="723.5" x2="290.2" y2="743.1" stroke="#000" stroke-width="2.6"/><circle cx="290.2" cy="733.3" r="3.9"/><text x="324.7" y="740.2" font-size="19.5" text-anchor="start">Data</text><rect x="270.8" y="751.5" width="38.5" height="13.6" fill="#9467bd"/><text x="324.7" y="765.2" font-size="19.5" text-anchor="start">t<tspan>t̄</tspan></text><rect x="270.8" y="775.1" width="38.5" height="13.6" fill="#d62728"/><text x="324.7" y="788.8" font-size="19.5" text-anchor="start">Diboson</text><rect x="270.8" y="799.1" width="38.5" height="13.6" fill="#2ca02c"/><text x="324.7" y="812.8" font-size="19.5" text-anchor="start">Single top</text><rect x="429.8" y="726.55" width="38.5" height="13.6" fill="#ff7f0e"/><text x="483.7" y="740.25" font-size="19.5" text-anchor="start">Z+jets</text><rect x="429.8" y="750.15" width="38.5" height="13.6" fill="#1f77b4"/><text x="483.7" y="763.85" font-size="19.5" text-anchor="start">W+jets</text><rect x="429.8" y="773.7" width="38.5" height="13.6" fill="#d8b0d8"/><text x="483.7" y="787.4" font-size="19.5" text-anchor="start">Uncert.</text><text x="704.4" y="719.9" font-size="17.8" font-weight="bold" font-style="italic">ATLAS</text><path d="M706.2 732.6L708.9 739.2" stroke="#000" stroke-width="1.7" fill="none"/><path d="M704.8 733.6L706.3 732.6L708.9 739.3L715.6 725.3H728.5" stroke="#000" stroke-width="1.05" fill="none"/><text x="718" y="739.9" font-size="17">s</text><path d="M732.7 733.7H740.5 M732.7 736.7H740.5" stroke="#000" stroke-width="1.1"/><text x="744.2" y="739.9" font-size="17.2" textLength="113.1" lengthAdjust="spacing">13 TeV, 140 fb</text><text x="855.4" y="732.8" font-size="12">−1</text><text x="703.6" y="760.1" font-size="17" font-style="italic">p</text><text x="712.9" y="760.5" font-size="12.4">T</text><path d="M732.9 750.7H728.9 A4.4 4.9 0 0 0 728.9 760.5H732.9 M724.6 755.6H732.9" stroke="#000" stroke-width="1.05" fill="none"/><text x="737.2" y="760.1" font-size="17" textLength="105.2" lengthAdjust="spacing">[20, 400] GeV</text><line x1="914.8" y1="723.5" x2="914.8" y2="743.1" stroke="#000" stroke-width="2.6"/><circle cx="914.8" cy="733.3" r="3.9"/><text x="949.3" y="740.2" font-size="19.5" text-anchor="start">Data</text><rect x="895.4" y="751.5" width="38.5" height="13.6" fill="#9467bd"/><text x="949.3" y="765.2" font-size="19.5" text-anchor="start">t<tspan>t̄</tspan></text><rect x="895.4" y="775.1" width="38.5" height="13.6" fill="#d62728"/><text x="949.3" y="788.8" font-size="19.5" text-anchor="start">Diboson</text><rect x="895.4" y="799.1" width="38.5" height="13.6" fill="#2ca02c"/><text x="949.3" y="812.8" font-size="19.5" text-anchor="start">Single top</text><rect x="1054.4" y="726.55" width="38.5" height="13.6" fill="#ff7f0e"/><text x="1108.3" y="740.25" font-size="19.5" text-anchor="start">Z+jets</text><rect x="1054.4" y="750.15" width="38.5" height="13.6" fill="#1f77b4"/><text x="1108.3" y="763.85" font-size="19.5" text-anchor="start">W+jets</text><rect x="1054.4" y="773.7" width="38.5" height="13.6" fill="#d8b0d8"/><text x="1108.3" y="787.4" font-size="19.5" text-anchor="start">Uncert.</text></svg></body></html>
